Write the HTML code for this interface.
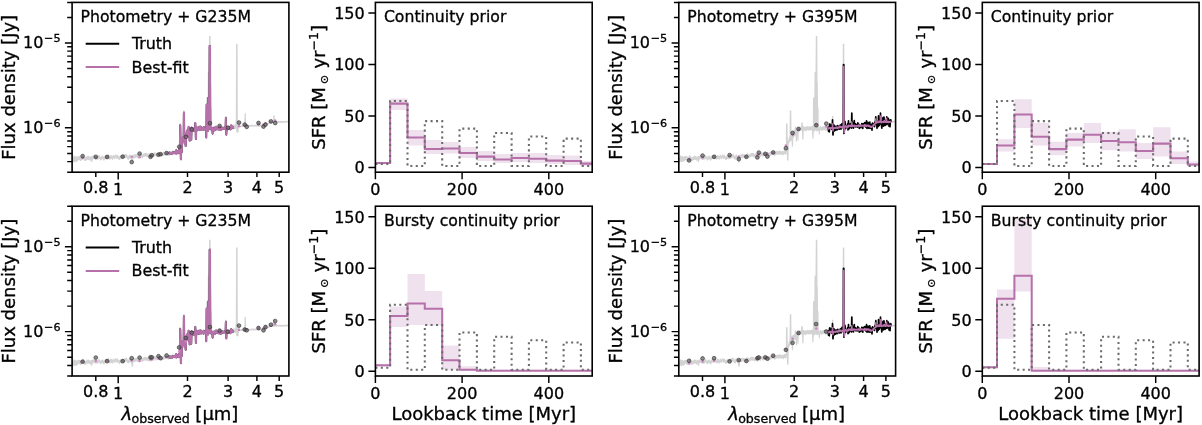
<!DOCTYPE html>
<html><head><meta charset="utf-8"><title>SFH recovery</title>
<style>html,body{margin:0;padding:0;background:#fff;overflow:hidden;width:1202px;height:425px}svg{display:block;filter:blur(0.45px)}text{stroke:#000;stroke-width:.32px}</style></head>
<body>
<svg width="1202" height="425" viewBox="0 0 1202 425" font-family='"DejaVu Sans","Liberation Sans",sans-serif' fill="#000">
<defs>
<clipPath id="c00"><rect x="72.1" y="2.4" width="216.8" height="169.8"/></clipPath>
<clipPath id="c01"><rect x="375.4" y="2.4" width="216.8" height="169.8"/></clipPath>
<clipPath id="c02"><rect x="678.8" y="2.4" width="216.8" height="169.8"/></clipPath>
<clipPath id="c03"><rect x="982.3" y="2.4" width="216.8" height="169.8"/></clipPath>
<clipPath id="c10"><rect x="72.1" y="206.2" width="216.8" height="169.8"/></clipPath>
<clipPath id="c11"><rect x="375.4" y="206.2" width="216.8" height="169.8"/></clipPath>
<clipPath id="c12"><rect x="678.8" y="206.2" width="216.8" height="169.8"/></clipPath>
<clipPath id="c13"><rect x="982.3" y="206.2" width="216.8" height="169.8"/></clipPath>
</defs>
<g clip-path="url(#c00)">
<polygon points="72.1,158.4 72.3,158.1 72.6,157.8 72.8,157.5 73.1,157.2 73.3,156.8 73.6,155.8 73.8,154.9 74.1,155.6 74.3,155.9 74.6,155.6 74.8,156 75.1,156.3 75.3,156.7 75.6,156.3 75.8,156.1 76.1,155.9 76.3,156 76.6,156.6 76.8,157.2 77.1,157 77.3,156.3 77.6,156.1 77.8,156.5 78.1,156.1 78.3,156.1 78.6,155.9 78.8,156 79.1,156.2 79.3,156.2 79.6,156.1 79.8,155.9 80.1,156.3 80.3,156.8 80.6,156.7 80.8,156.5 81.1,156.4 81.3,156.6 81.6,156.8 81.8,156.6 82.1,156.4 82.3,156.1 82.6,155.5 82.8,155 83.1,155 83.3,155.1 83.6,155.2 83.8,155.6 84.1,156 84.3,156.6 84.6,157.2 84.8,157.3 85.1,157.1 85.3,157 85.6,157.3 85.8,156.8 86.1,156.8 86.3,156.8 86.6,156.8 86.8,156.5 87.1,156.1 87.3,155.9 87.6,155.8 87.8,156 88.1,155.5 88.3,155.3 88.6,155.9 88.8,156.3 89.1,156.2 89.3,156.3 89.6,156.4 89.8,156.7 90.1,156.7 90.3,156.7 90.6,156.5 90.8,156.4 91.1,156.3 91.3,156.3 91.6,156.1 91.8,155.9 92.1,155.8 92.3,155.8 92.6,155.8 92.8,156.1 93.1,155.8 93.3,155.7 93.6,155.6 93.8,155.2 94.1,154.8 94.3,154.8 94.6,155.5 94.8,155.6 95.1,155.8 95.3,156.2 95.6,156.4 95.8,156.4 96.1,156.3 96.3,156.3 96.6,156.2 96.8,156.2 97.1,156.2 97.3,156.2 97.6,156.2 97.8,156.1 98.1,155.9 98.3,155.5 98.6,155.2 98.8,155.2 99.1,154.9 99.3,155.1 99.6,155.4 99.8,155.9 100.1,156.7 100.3,157.1 100.6,156.9 100.8,156.4 101.1,156.2 101.3,156.2 101.6,156.1 101.8,156 102.1,155.9 102.3,155.6 102.6,155.3 102.8,155.5 103.1,156.2 103.3,156.2 103.6,156.6 103.8,156.9 104.1,156.8 104.3,156.5 104.6,156.2 104.8,155.8 105.1,155.5 105.3,155.3 105.6,155.2 105.8,155.1 106.1,154.9 106.3,154.8 106.6,154.9 106.8,155.1 107.1,155.1 107.3,155 107.6,154.8 107.8,154.8 108.1,154.3 108.3,154.1 108.6,154 108.8,154.4 109.1,155 109.3,155.6 109.6,156.1 109.8,156.2 110.1,155.6 110.3,155.1 110.6,154.8 110.8,155.1 111.1,155.4 111.3,155.3 111.6,155.3 111.8,155.3 112.1,155.3 112.3,155.4 112.6,156 112.8,156.1 113.1,155.7 113.3,155.2 113.6,154.7 113.8,154.6 114.1,154.8 114.3,155.4 114.6,155.7 114.8,155.7 115.1,155.2 115.3,154.7 115.6,154.5 115.8,154.2 116.1,154.5 116.3,154.8 116.6,155 116.8,155.1 117.1,154.9 117.3,154.7 117.6,154.6 117.8,154.7 118.1,155.2 118.3,155.7 118.6,156.1 118.8,156.4 119.1,156.5 119.3,156.5 119.6,156.3 119.8,156.1 120.1,155.5 120.3,155.5 120.6,155.5 120.8,155.3 121.1,155.2 121.3,155.1 121.6,155.6 121.8,155.9 122.1,155.5 122.3,155 122.6,154.8 122.8,155 123.1,155.4 123.3,155.3 123.6,155.3 123.8,155.1 124.1,154.8 124.3,154.6 124.6,154.8 124.8,154.3 125.1,154.2 125.3,154.2 125.6,154.1 125.8,154 126.1,153.9 126.3,153.8 126.6,153.8 126.8,154.3 127.1,154.8 127.3,155.2 127.6,155.5 127.8,155.7 128.1,156 128.3,156.2 128.6,155.7 128.8,155 129.1,154.3 129.3,154.3 129.6,154.4 129.8,154.4 130.1,154.5 130.3,154.9 130.6,155.3 130.8,155.7 131.1,156.1 131.3,155.7 131.6,155.4 131.8,155.1 132.1,154.9 132.3,155 132.6,154.9 132.8,154.8 133.1,154.7 133.3,154.7 133.6,154.9 133.8,154.6 134.1,154.6 134.3,154.6 134.6,154.5 134.8,154.2 135.1,154 135.3,154.3 135.6,154.2 135.8,153.9 136.1,153.9 136.3,153.8 136.6,154 136.8,154.2 137.1,154.4 137.3,154.4 137.6,154.2 137.8,154.1 138.1,154.1 138.3,154.4 138.6,154.8 138.8,155 139.1,154.8 139.3,154.5 139.6,154.3 139.8,153.6 140.1,153.5 140.3,153.5 140.6,153.1 140.8,153.3 141.1,153.6 141.3,153.8 141.6,153.8 141.8,154.3 142.1,154.8 142.3,154.7 142.6,154.6 142.8,154.1 143.1,153.9 143.3,153.7 143.6,153.5 143.8,153.5 144.1,153.3 144.3,153.3 144.6,153 144.8,152.9 145.1,152.8 145.3,152.9 145.6,153.2 145.8,153.1 146.1,153.1 146.3,153.1 146.6,153.1 146.8,153.1 147.1,153.1 147.3,153.2 147.6,153.5 147.8,154 148.1,154.5 148.3,154 148.6,153.6 148.8,153.3 149.1,153.4 149.3,153.5 149.6,153.6 149.8,153.3 150.1,153 150.3,153.6 150.6,153.9 150.8,154 151.1,153.9 151.3,153.7 151.6,153.6 151.8,153.4 152.1,153.2 152.3,153.1 152.6,153.1 152.8,153.1 153.1,153.1 153.3,153.3 153.6,153.4 153.8,153.2 154.1,152.8 154.3,152.5 154.6,152.4 154.8,152.3 155.1,152 155.3,152.1 155.6,152.5 155.8,153 156.1,153.2 156.3,153.1 156.6,153.1 156.8,153.1 157.1,153 157.3,152.7 157.6,152.7 157.8,152.6 158.1,152.3 158.3,152.1 158.6,152.1 158.8,152.2 159.1,152.2 159.3,152.3 159.6,152 159.8,152 160.1,152.1 160.3,152 160.6,152.2 160.8,152.4 161.1,152.7 161.3,152.9 161.6,153 161.8,153 162.1,152.9 162.3,152.7 162.6,152.5 162.8,152.4 163.1,152.3 163.3,152.1 163.6,151.8 163.8,151.6 164.1,151.9 164.3,152.3 164.6,151.9 164.8,152 165.1,151.7 165.3,151.8 165.6,151.7 165.8,151.7 166.1,151.4 166.3,151.2 166.6,151.2 166.8,151.4 167.1,151.4 167.3,151.6 167.6,152.1 167.8,152.3 168.1,151.7 168.3,151.7 168.6,151.8 168.8,151.6 169.1,151.3 169.3,151.1 169.6,151.1 169.8,151.2 170.1,151.1 170.3,150.9 170.6,150.8 170.8,150.7 171.1,150.9 171.3,151.3 171.6,151.3 171.8,151.1 172.1,150.9 172.3,150.9 172.6,150.9 172.8,149.8 173.1,149.8 173.3,150.5 173.6,151.1 173.8,151.3 174.1,150.9 174.3,150.8 174.6,150.9 174.8,151.3 175.1,151.6 175.3,151.4 175.6,151 175.8,150.6 176.1,150.8 176.3,151.1 176.6,151.4 176.8,151.2 177.1,150.5 177.3,150.1 177.6,150.1 177.8,150.1 178.1,150.3 178.3,150.5 178.6,150.4 178.8,150.3 179.1,150.5 179.3,123.4 179.6,123.4 179.8,123.4 180.1,123.4 180.3,123.4 180.6,123.4 180.8,123.4 181.1,141.5 181.3,140.8 181.6,140 181.8,138.9 182.1,137.9 182.3,137 182.6,136.4 182.8,135.7 183.1,110.5 183.3,110.5 183.6,110.5 183.8,110.5 184.1,110.5 184.3,110.5 184.6,110.5 184.8,132.5 185.1,132.1 185.3,132 185.6,131.6 185.8,131.4 186.1,131.3 186.3,131.6 186.6,131.1 186.8,130.7 187.1,130.4 187.3,130.2 187.6,130.1 187.8,130.1 188.1,126.4 188.3,126.4 188.6,126.4 188.8,126.4 189.1,126.4 189.3,126.4 189.6,128.8 189.8,128.6 190.1,128.6 190.3,128.5 190.6,128.4 190.8,128.3 191.1,128.1 191.3,127.8 191.6,127.6 191.8,127.4 192.1,127.3 192.3,127.3 192.6,127.1 192.8,127 193.1,126.9 193.3,126.7 193.6,126.8 193.8,126.9 194.1,126.9 194.3,126.7 194.6,122.4 194.8,122.4 195.1,122.4 195.3,122.4 195.6,122.4 195.8,122.4 196.1,122.4 196.3,126.3 196.6,126.2 196.8,126.3 197.1,126 197.3,126 197.6,126.4 197.8,127.1 198.1,127 198.3,126.6 198.6,126.3 198.8,126.7 199.1,126.9 199.3,126.5 199.6,126.7 199.8,126.6 200.1,126.5 200.3,126.4 200.6,126.2 200.8,126.1 201.1,126 201.3,126.3 201.6,126.4 201.8,126.6 202.1,126.4 202.3,126.3 202.6,126.5 202.8,126.5 203.1,126.3 203.3,126.2 203.6,126.2 203.8,126.5 204.1,126.4 204.3,126.1 204.6,126 204.8,126.1 205.1,126.3 205.3,126 205.6,125.7 205.8,125.5 206.1,125.8 206.3,97.4 206.6,97.4 206.8,97.4 207.1,97.4 207.3,97.4 207.6,97.4 207.8,71.9 208.1,71.9 208.3,71.9 208.6,71.9 208.8,71.9 209.1,36 209.3,36 209.6,36 209.8,36 210.1,36 210.3,36 210.6,36 210.8,82.4 211.1,82.4 211.3,107.4 211.6,107.4 211.8,107.4 212.1,126.4 212.3,126.7 212.6,127 212.8,127.4 213.1,127.2 213.3,126.4 213.6,125.6 213.8,125.8 214.1,126.2 214.3,126.5 214.6,126.9 214.8,127 215.1,126.9 215.3,126.6 215.6,126.2 215.8,126.5 216.1,126.7 216.3,126.6 216.6,126.2 216.8,125.9 217.1,126 217.3,126.1 217.6,126 217.8,125.8 218.1,125.8 218.3,125.9 218.6,126.1 218.8,126.4 219.1,126.5 219.3,126.3 219.6,126.2 219.8,126.6 220.1,126.7 220.3,126.1 220.6,125.9 220.8,126 221.1,126.1 221.3,126.1 221.6,126.2 221.8,126.5 222.1,126.7 222.3,126.6 222.6,126.5 222.8,126.2 223.1,125.9 223.3,125.8 223.6,126 223.8,126.2 224.1,126.4 224.3,125.9 224.6,125.5 224.8,125.6 225.1,125.7 225.3,115.9 225.6,115.9 225.8,115.9 226.1,115.9 226.3,115.9 226.6,115.9 226.8,126.4 227.1,126.1 227.3,125.7 227.6,125.4 227.8,125.3 228.1,125.3 228.3,125.4 228.6,125.5 228.8,126 229.1,126.2 229.3,125.8 229.6,125.7 229.8,126 230.1,126.1 230.3,126.1 230.6,125.8 230.8,125.5 231.1,125.3 231.3,125.3 231.6,125.2 231.8,125.4 232.1,125.7 232.3,125.6 232.6,125.1 232.8,124.4 233.1,124.1 233.3,124 233.6,124.5 233.8,125.5 234.1,126 234.3,125.1 234.6,124.2 234.8,124.3 235.1,124.9 235.3,125.1 235.6,119.9 235.8,119.9 236.1,43.8 236.3,43.8 236.6,43.8 236.8,43.8 237.1,43.8 237.3,43.8 237.6,43.8 237.8,119.9 238.1,119.9 238.3,119.9 238.6,119.9 238.8,119.9 239.1,122.4 239.3,122.4 239.6,122.4 239.8,122.4 240.1,125.5 240.3,125.7 240.6,125.6 240.8,125.6 241.1,125.5 241.3,125.5 241.6,125.5 241.8,125.4 242.1,125.3 242.3,125.2 242.6,125.2 242.8,125.3 243.1,125.1 243.3,125 243.6,125 243.8,125.1 244.1,125.1 244.3,125.1 244.6,113.2 244.8,113.2 245.1,113.2 245.3,113.2 245.6,113.2 245.8,113.2 246.1,125 246.3,124.9 246.6,124.9 246.8,124.9 247.1,124.9 247.3,124.9 247.6,124.9 247.8,124.8 248.1,124.8 248.3,124.8 248.6,124.9 248.8,124.9 249.1,125 249.3,125 249.6,125 249.8,125.1 250.1,125.2 250.3,125.3 250.6,125.1 250.8,124.9 251.1,124.8 251.3,124.7 251.6,124.7 251.8,124.7 252.1,124.7 252.3,124.7 252.6,124.9 252.8,124.9 253.1,124.9 253.3,124.9 253.6,124.9 253.8,124.8 254.1,124.8 254.3,124.8 254.6,124.8 254.8,124.9 255.1,124.9 255.3,124.9 255.6,124.8 255.8,124.8 256.1,124.8 256.4,124.7 256.6,124.7 256.9,124.9 257.1,125 257.4,124.8 257.6,124.8 257.9,124.8 258.1,124.9 258.4,124.9 258.6,125 258.9,125 259.1,125 259.4,125 259.6,124.9 259.9,124.8 260.1,124.7 260.4,124.6 260.6,124.6 260.9,124.7 261.1,124.8 261.4,124.9 261.6,124.8 261.9,124.8 262.1,124.8 262.4,124.5 262.6,124.4 262.9,124.5 263.1,124.8 263.4,125.1 263.6,125 263.9,124.8 264.1,124.7 264.4,124.9 264.6,124.9 264.9,124.8 265.1,124.6 265.4,124.6 265.6,124.7 265.9,124.7 266.1,124.3 266.4,124 266.6,123.8 266.9,123.8 267.1,123.5 267.4,123.3 267.6,123 267.9,122.9 268.1,122.9 268.4,122.8 268.6,119.4 268.9,119.4 269.1,119.4 269.4,119.4 269.6,119.4 269.9,121.9 270.1,121.8 270.4,121.6 270.6,121.4 270.9,121.3 271.1,121.3 271.4,121.3 271.6,121.2 271.9,121 272.1,121.1 272.4,120.9 272.6,120.9 272.9,121.1 273.1,121.1 273.4,115.2 273.6,115.2 273.9,115.2 274.1,115.2 274.4,115.2 274.6,115.2 274.9,121.3 275.1,121.2 275.4,120.9 275.6,120.7 275.9,120.9 276.1,121 276.4,121.2 276.6,121.3 276.9,121.4 277.1,121.3 277.4,121.1 277.6,121 277.9,120.9 278.1,120.9 278.4,121 278.6,121.1 278.9,121 279.1,120.9 279.4,121 279.6,121 279.9,121.1 280.1,121.1 280.4,121 280.6,121 280.9,121.1 281.1,121.3 281.4,121.2 281.6,121.2 281.9,121.1 282.1,120.9 282.4,120.9 282.6,121.1 282.9,121.2 283.1,121.2 283.4,121.2 283.6,121.3 283.9,121.1 284.1,120.9 284.4,120.9 284.6,121 284.9,120.9 285.1,120.8 285.4,120.7 285.6,120.9 285.9,121.2 286.1,121.2 286.4,121.1 286.6,121 286.9,120.9 287.1,120.8 287.4,120.7 287.6,120.7 287.9,120.8 288.1,121 288.4,121.1 288.6,121.2 288.9,121.3 288.9,123 288.6,122.9 288.4,122.8 288.1,122.6 287.9,122.5 287.6,122.4 287.4,122.4 287.1,122.5 286.9,122.6 286.6,122.7 286.4,122.8 286.1,122.9 285.9,122.8 285.6,122.6 285.4,122.3 285.1,122.5 284.9,122.7 284.6,122.7 284.4,122.7 284.1,122.6 283.9,122.8 283.6,122.9 283.4,123 283.1,122.9 282.9,122.9 282.6,122.7 282.4,122.6 282.1,122.8 281.9,122.9 281.6,122.9 281.4,123 281.1,123 280.9,122.9 280.6,122.8 280.4,122.8 280.1,122.8 279.9,122.8 279.6,122.8 279.4,122.6 279.1,122.7 278.9,122.7 278.6,122.8 278.4,122.7 278.1,122.7 277.9,122.7 277.6,122.7 277.4,122.8 277.1,122.9 276.9,123 276.6,123 276.4,122.9 276.1,122.7 275.9,122.6 275.6,122.4 275.4,122.6 275.1,122.9 274.9,123.1 274.6,123.1 274.4,123.1 274.1,123 273.9,122.9 273.6,122.9 273.4,122.8 273.1,122.8 272.9,122.8 272.6,122.7 272.4,122.7 272.1,122.7 271.9,122.9 271.6,123 271.4,123.2 271.1,123.1 270.9,123 270.6,123.2 270.4,123.4 270.1,123.6 269.9,123.7 269.6,123.7 269.4,123.8 269.1,123.9 268.9,124.1 268.6,124.3 268.4,124.4 268.1,124.5 267.9,124.6 267.6,124.6 267.4,125 267.1,125.3 266.9,125.5 266.6,125.6 266.4,125.8 266.1,126.1 265.9,126.4 265.6,126.4 265.4,126.3 265.1,126.3 264.9,126.5 264.6,126.7 264.4,126.6 264.1,126.5 263.9,126.5 263.6,126.6 263.4,126.7 263.1,126.6 262.9,126.3 262.6,126.2 262.4,126.3 262.1,126.4 261.9,126.5 261.6,126.6 261.4,126.5 261.1,126.5 260.9,126.4 260.6,126.4 260.4,126.4 260.1,126.5 259.9,126.6 259.6,126.7 259.4,126.8 259.1,126.8 258.9,126.7 258.6,126.7 258.4,126.6 258.1,126.5 257.9,126.5 257.6,126.6 257.4,126.7 257.1,126.8 256.9,126.6 256.6,126.5 256.4,126.5 256.1,126.5 255.8,126.5 255.6,126.6 255.3,126.7 255.1,126.6 254.8,126.5 254.6,126.5 254.3,126.4 254.1,126.4 253.8,126.5 253.6,126.6 253.3,126.7 253.1,126.7 252.8,126.7 252.6,126.6 252.3,126.4 252.1,126.4 251.8,126.4 251.6,126.5 251.3,126.5 251.1,126.6 250.8,126.7 250.6,126.8 250.3,127 250.1,126.9 249.8,126.8 249.6,126.6 249.3,126.8 249.1,126.9 248.8,126.8 248.6,126.6 248.3,126.6 248.1,126.7 247.8,126.8 247.6,126.7 247.3,126.5 247.1,126.5 246.8,126.5 246.6,126.6 246.3,126.7 246.1,126.8 245.8,126.8 245.6,126.8 245.3,126.8 245.1,126.9 244.8,127 244.6,127 244.3,126.9 244.1,126.9 243.8,126.8 243.6,126.8 243.3,126.8 243.1,126.9 242.8,127 242.6,126.9 242.3,126.9 242.1,127 241.8,127.1 241.6,127.3 241.3,127.3 241.1,127.2 240.8,127.3 240.6,127.3 240.3,127.3 240.1,127.3 239.8,127.3 239.6,127.2 239.3,127.1 239.1,126.9 238.8,127 238.6,132.4 238.3,132.4 238.1,132.4 237.8,132.4 237.6,132.4 237.3,132.4 237.1,132.4 236.8,132.4 236.6,132.4 236.3,132.4 236.1,128.1 235.8,129.2 235.6,129.1 235.3,129.1 235.1,128.7 234.8,128.5 234.6,128.5 234.3,129.3 234.1,130 233.8,129.5 233.6,128.8 233.3,128.3 233.1,128.6 232.8,128.7 232.6,129.2 232.3,129.9 232.1,130.2 231.8,130 231.6,129.6 231.3,129.6 231.1,129.6 230.8,129.7 230.6,129.8 230.3,130 230.1,129.9 229.8,129.7 229.6,129.5 229.3,129.8 229.1,130.2 228.8,130.2 228.6,129.8 228.3,129.3 228.1,129.1 227.8,129.1 227.6,129.3 227.3,135.6 227.1,135.6 226.8,135.6 226.6,135.6 226.3,135.6 226.1,135.6 225.8,130.4 225.6,130.5 225.3,130.6 225.1,130.6 224.8,130.3 224.6,129.9 224.3,130 224.1,130.5 223.8,130.7 223.6,130.2 223.3,129.6 223.1,129.7 222.8,130.1 222.6,130.5 222.3,130.7 222.1,130.8 221.8,130.7 221.6,130.5 221.3,130.2 221.1,129.9 220.8,129.8 220.6,130 220.3,130.5 220.1,130.8 219.8,130.7 219.6,130.4 219.3,130.3 219.1,130.4 218.8,130.6 218.6,130.9 218.3,130.5 218.1,129.8 217.8,130.3 217.6,130.3 217.3,130.2 217.1,129.9 216.8,130 216.6,130.4 216.3,130.5 216.1,130.7 215.8,130.4 215.6,130.1 215.3,130.3 215.1,130.8 214.8,131.1 214.6,130.8 214.3,130.9 214.1,130.6 213.8,130.2 213.6,130 213.3,130.6 213.1,134.4 212.8,134.4 212.6,134.4 212.3,134.4 212.1,134.4 211.8,130.7 211.6,130.5 211.3,130.8 211.1,131.2 210.8,131.3 210.6,131.3 210.3,131.2 210.1,131.5 209.8,131.3 209.6,130.9 209.3,130.4 209.1,129.9 208.8,130.4 208.6,131 208.3,131.5 208.1,131.4 207.8,131.4 207.6,131.3 207.3,131 207.1,131 206.8,138.4 206.6,138.4 206.3,138.4 206.1,138.4 205.8,138.4 205.6,138.4 205.3,130.7 205.1,130.7 204.8,130.2 204.6,130.1 204.3,130.1 204.1,130.3 203.8,130.6 203.6,130.6 203.3,130.5 203.1,130.4 202.8,130.5 202.6,130.6 202.3,130.7 202.1,130.6 201.8,130.6 201.6,130.4 201.3,130.2 201.1,130 200.8,130.1 200.6,130.2 200.3,130.2 200.1,130.7 199.8,131.1 199.6,131.2 199.3,131.3 199.1,131.3 198.8,131.1 198.6,130.8 198.3,130.5 198.1,131.1 197.8,131.2 197.6,130.6 197.3,130.2 197.1,130 196.8,139.4 196.6,139.4 196.3,139.4 196.1,139.4 195.8,139.4 195.6,139.4 195.3,130.7 195.1,130.8 194.8,130.8 194.6,130.8 194.3,130.8 194.1,130.9 193.8,131.2 193.6,131 193.3,131 193.1,131.1 192.8,131.6 192.6,131.8 192.3,131.7 192.1,131.5 191.8,140.4 191.6,140.4 191.3,140.4 191.1,140.4 190.8,140.4 190.6,133.3 190.3,141.4 190.1,141.4 189.8,141.4 189.6,141.4 189.3,141.4 189.1,141.4 188.8,135.2 188.6,136 188.3,136.3 188.1,136.3 187.8,136.2 187.6,136.5 187.3,137.2 187.1,137.2 186.8,137.7 186.6,138.4 186.3,146.4 186.1,146.4 185.8,146.4 185.6,146.4 185.3,146.4 185.1,146.4 184.8,139.8 184.6,140.4 184.3,141.3 184.1,141.3 183.8,141.2 183.6,141.1 183.3,141.4 183.1,141.9 182.8,142.4 182.6,143 182.3,143.4 182.1,144.1 181.8,160.6 181.6,160.6 181.3,160.6 181.1,160.6 180.8,160.6 180.6,160.6 180.3,160.6 180.1,151.6 179.8,153 179.6,154.4 179.3,155.3 179.1,154.8 178.8,154.6 178.6,154.4 178.3,154.3 178.1,154.2 177.8,154.1 177.6,154.1 177.3,154.1 177.1,154.6 176.8,155.1 176.6,155.6 176.3,155.4 176.1,155 175.8,154.7 175.6,154.8 175.3,154.9 175.1,155.1 174.8,154.9 174.6,154.5 174.3,154.2 174.1,154.5 173.8,154.7 173.6,154.6 173.3,154.4 173.1,154.4 172.8,154.6 172.6,154.6 172.3,154.9 172.1,154.8 171.8,155 171.6,155.2 171.3,154.8 171.1,154.5 170.8,154.3 170.6,154.4 170.3,154.4 170.1,154.7 169.8,154.8 169.6,154.9 169.3,154.9 169.1,155.2 168.8,155.4 168.6,155.6 168.3,155.7 168.1,156.2 167.8,156.1 167.6,155.6 167.3,155.3 167.1,155 166.8,154.9 166.6,154.8 166.3,154.9 166.1,155 165.8,155.1 165.6,155.1 165.3,155.2 165.1,155.2 164.8,155.3 164.6,155.5 164.3,155.6 164.1,155.7 163.8,155.7 163.6,155.8 163.3,156 163.1,156 162.8,156 162.6,156.1 162.3,156.2 162.1,156.3 161.8,156.4 161.6,156.4 161.3,156.4 161.1,156.3 160.8,156 160.6,155.8 160.3,156 160.1,155.9 159.8,155.7 159.6,155.6 159.3,155.7 159.1,155.7 158.8,155.8 158.6,155.8 158.3,155.7 158.1,155.6 157.8,156 157.6,156.2 157.3,156.3 157.1,156.5 156.8,156.7 156.6,156.8 156.3,156.6 156.1,156.8 155.8,156.6 155.6,156.1 155.3,155.7 155.1,155.5 154.8,155.8 154.6,156 154.3,156.4 154.1,156.7 153.8,157 153.6,157.2 153.3,157 153.1,156.8 152.8,156.8 152.6,156.8 152.3,156.7 152.1,156.6 151.8,157 151.6,157.4 151.3,157.8 151.1,157.8 150.8,157.7 150.6,157.7 150.3,157.8 150.1,157.8 149.8,157.5 149.6,157.2 149.3,157.1 149.1,157 148.8,156.9 148.6,157.2 148.3,157.8 148.1,158 147.8,157.6 147.6,157.3 147.3,156.7 147.1,156.5 146.8,156.8 146.6,157.1 146.3,157.2 146.1,156.9 145.8,156.7 145.6,156.6 145.3,156.6 145.1,156.6 144.8,156.6 144.6,156.7 144.3,156.9 144.1,157 143.8,156.9 143.6,157.3 143.3,157.5 143.1,157.4 142.8,157.6 142.6,158 142.3,158.4 142.1,158.2 141.8,158 141.6,157.7 141.3,157.3 141.1,157.1 140.8,156.8 140.6,156.9 140.3,157.2 140.1,157.5 139.8,157.7 139.6,157.8 139.3,158 139.1,158.4 138.8,158.8 138.6,158.7 138.3,158.3 138.1,158 137.8,157.9 137.6,158.2 137.3,158.3 137.1,158 136.8,157.7 136.6,157.4 136.3,157.2 136.1,157.4 135.8,157.7 135.6,157.9 135.3,157.8 135.1,158.1 134.8,158 134.6,158.4 134.3,158.4 134.1,158.2 133.8,158.4 133.6,158.4 133.3,158.4 133.1,162.6 132.8,162.6 132.6,162.6 132.3,162.6 132.1,162.6 131.8,162.6 131.6,162.6 131.3,159.4 131.1,159.7 130.8,159.4 130.6,158.8 130.3,158.3 130.1,158 129.8,158.2 129.6,158.5 129.3,158.9 129.1,159.5 128.8,159.3 128.6,159.7 128.3,160.1 128.1,159.7 127.8,159.2 127.6,159.1 127.3,159.2 127.1,158.7 126.8,158.1 126.6,157.5 126.3,157.4 126.1,157.6 125.8,157.8 125.6,158.1 125.3,158.2 125.1,158.2 124.8,158.2 124.6,158.1 124.3,158.6 124.1,158.6 123.8,159.2 123.6,159.4 123.3,159 123.1,158.8 122.8,158.7 122.6,158.7 122.3,158.9 122.1,159.2 121.8,159.4 121.6,159.2 121.3,159.1 121.1,159 120.8,158.8 120.6,159 120.3,159.3 120.1,159.8 119.8,160.2 119.6,160.3 119.3,160.1 119.1,159.9 118.8,160 118.6,159.5 118.3,159.3 118.1,158.7 117.8,158.6 117.6,158.9 117.3,158.9 117.1,158.8 116.8,158.9 116.6,158.7 116.3,158.4 116.1,158 115.8,157.6 115.6,158.1 115.3,158.8 115.1,159 114.8,159.2 114.6,159.3 114.3,159.1 114.1,158.9 113.8,158.2 113.6,158.3 113.3,158.8 113.1,159.2 112.8,159.5 112.6,160 112.3,160 112.1,159.6 111.8,159.1 111.6,158.8 111.3,159.1 111.1,159.3 110.8,158.9 110.6,159.1 110.3,159.4 110.1,159.4 109.8,159.6 109.6,160 109.3,160 109.1,159.4 108.8,158.8 108.6,158.1 108.3,157.7 108.1,158.2 107.8,158.5 107.6,158.8 107.3,159.2 107.1,159.4 106.8,159.3 106.6,159.1 106.3,158.8 106.1,158.4 105.8,158.6 105.6,159 105.3,159.2 105.1,159.4 104.8,159.5 104.6,160.1 104.3,160.5 104.1,160.7 103.8,160.8 103.6,160.6 103.3,160.4 103.1,159.8 102.8,159.2 102.6,159.1 102.3,159.2 102.1,159.4 101.8,159.6 101.6,159.8 101.3,159.8 101.1,160.2 100.8,160.6 100.6,160.5 100.3,160.8 100.1,160.4 99.8,159.8 99.6,159.2 99.3,158.6 99.1,158.4 98.8,158.7 98.6,159.1 98.3,159.3 98.1,159.5 97.8,159.7 97.6,159.8 97.3,160.1 97.1,159.9 96.8,159.6 96.6,159.6 96.3,159.8 96.1,160.1 95.8,160 95.6,160 95.3,159.9 95.1,159.8 94.8,159.6 94.6,159 94.3,158.9 94.1,158.7 93.8,158.7 93.6,159.1 93.3,159.3 93.1,159.5 92.8,159.7 92.6,159.7 92.3,162 92.1,162 91.8,162 91.6,162 91.3,162 91.1,162 90.8,159.9 90.6,160.2 90.3,160.8 90.1,161.3 89.8,160.8 89.6,160.4 89.3,160 89.1,159.8 88.8,159.9 88.6,159.9 88.3,160 88.1,159.7 87.8,159.7 87.6,159.8 87.3,159.9 87.1,160 86.8,160 86.6,160.3 86.3,160.5 86.1,160.6 85.8,160.7 85.6,160.9 85.3,161.2 85.1,161.2 84.8,161.1 84.6,161 84.3,160.9 84.1,160.8 83.8,160.1 83.6,159.4 83.3,158.8 83.1,158.7 82.8,159 82.6,159.4 82.3,159.7 82.1,160 81.8,160.3 81.6,160.3 81.3,160.6 81.1,160.9 80.8,161 80.6,161.1 80.3,161.1 80.1,160.9 79.8,160.6 79.6,160.3 79.3,160.1 79.1,160 78.8,160 78.6,159.8 78.3,160.4 78.1,161 77.8,161 77.6,161 77.3,161.1 77.1,161.4 76.8,161.6 76.6,161.9 76.3,162.2 76.1,161.7 75.8,161.4 75.6,161.9 75.3,161.9 75.1,161.9 74.8,162.2 74.6,162.6 74.3,161.8 74.1,161.3 73.8,162.2 73.6,161.7 73.3,162.1 73.1,162.5 72.8,163.4 72.6,164.3 72.3,164.6 72.1,165" fill="#d3d3d3"/>
<polyline points="169.1,152.9 169.3,152.5 169.6,154.2 169.8,153.3 170.1,152.8 170.3,153.5 170.6,153 170.8,153.4 171.1,153.9 171.3,152.8 171.6,153.3 171.8,153.3 172.1,153.7 172.3,153.3 172.6,152.9 172.8,152.4 173.1,153 173.3,152.1 173.6,153.2 173.8,152.8 174.1,153.1 174.3,152.4 174.6,152.1 174.8,152 175.1,153.4 175.3,152.5 175.6,152.4 175.8,151.3 176.1,152.5 176.3,150.1 176.6,153.5 176.8,152.3 177.1,152.5 177.3,151.5 177.6,151.7 177.8,152.8 178.1,152.2 178.3,152.7 178.6,153.2 178.8,152.8 179.1,149.7 179.3,150.9 179.6,149.8 179.8,148.8 180.1,125.3 180.3,125.3 180.6,145.2 180.8,159.2 181.1,159.2 181.3,143.1 181.6,152.4 181.8,152.4 182.1,138.5 182.3,140.5 182.6,139.1 182.8,137.4 183.1,140.3 183.3,140.5 183.6,140.6 183.8,112.6 184.1,112.6 184.3,137.4 184.6,143.4 184.8,138.2 185.1,134.9 185.3,136.4 185.6,146 185.8,146 186.1,138.2 186.3,134.5 186.6,136.4 186.8,130.7 187.1,130.9 187.3,130.4 187.6,133.9 187.8,134.1 188.1,130 188.3,130.8 188.6,126.8 188.8,136.9 189.1,131.7 189.3,131.8 189.6,140.6 189.8,140.6 190.1,130.4 190.3,128.1 190.6,129.1 190.8,133.3 191.1,130.7 191.3,140 191.6,127.5 191.8,129.7 192.1,129.8 192.3,128.5 192.6,131 192.8,128.4 193.1,129 193.3,130.5 193.6,129.5 193.8,130.8 194.1,128.7 194.3,128.4 194.6,129.7 194.8,129.4 195.1,130.7 195.3,123 195.6,129 195.8,139 196.1,139 196.3,127.6 196.6,128.8 196.8,128.5 197.1,130.4 197.3,128.4 197.6,130.2 197.8,127.5 198.1,128.8 198.3,130.1 198.6,128.6 198.8,130.1 199.1,126.7 199.3,128.9 199.6,129 199.8,128.7 200.1,127.3 200.3,129.5 200.6,126.5 200.8,129.7 201.1,129 201.3,129.7 201.6,128.5 201.8,127.7 202.1,128.3 202.3,128.3 202.6,129.3 202.8,128.4 203.1,129.1 203.3,129.1 203.6,130 203.8,126.9 204.1,128.3 204.3,129.3 204.6,129.3 204.8,128.2 205.1,128.5 205.3,128.6 205.6,128.8 205.8,128.2 206.1,128.1 206.3,137.5 206.6,104.7 206.8,104.7 207.1,104.7 207.3,129.5 207.6,112.4 207.8,112.4 208.1,130.7 208.3,97.6 208.6,97.6 208.8,97.6 209.1,127.6 209.3,128.9 209.6,45.9 209.8,45.9 210.1,45.9 210.3,127.8 210.6,127.9 210.8,129 211.1,128.5 211.3,129.1 211.6,129.7 211.8,127.6 212.1,128 212.3,128.7 212.6,133.8 212.8,128.3 213.1,128.2 213.3,129 213.6,130.4 213.8,128.1 214.1,128.3 214.3,128.6 214.6,129.2 214.8,130.4 215.1,127.5 215.3,127.1 215.6,128.7 215.8,129 216.1,126.6 216.3,128 216.6,129.3 216.8,128.1 217.1,128.9 217.3,128.6 217.6,129 217.8,128.8 218.1,128.7 218.3,129.5 218.6,128 218.8,128.5 219.1,129.4 219.3,127.9 219.6,128.1 219.8,127.8 220.1,127.6 220.3,130.1 220.6,128.8 220.8,130 221.1,129 221.3,128.4 221.6,128.1 221.8,128.6 222.1,128.3 222.3,129.1 222.6,127.6 222.8,128.4 223.1,128.7 223.3,128.1 223.6,128.1 223.8,128.7 224.1,128.7 224.3,128.1 224.6,128.2 224.8,127.7 225.1,128.7 225.3,128.1 225.6,126.8 225.8,117.9 226.1,128.7 226.3,134.7 226.6,127.4 226.8,128.7 227.1,128.6 227.3,128.6 227.6,129.4 227.8,127.8 228.1,128.6 228.3,127.8 228.6,128.8 228.8,128.9 229.1,128.3 229.3,128.5 229.6,127.1 229.8,128.3 230.1,126.7 230.3,129.5 230.6,128.6 230.8,126.3 231.1,125.3 231.3,128.6 231.6,126.8 231.8,127.9 232.1,126.3 232.3,127.4 232.6,126.8 232.8,127.8 233.1,127 233.3,128.5" fill="none" stroke="#000" stroke-width="1.7" stroke-linejoin="round" />
<polyline points="169.1,152.9 169.3,152.5 169.6,154.2 169.8,153.3 170.1,152.8 170.3,153.5 170.6,153 170.8,153.4 171.1,153.9 171.3,152.8 171.6,153.3 171.8,153.3 172.1,153.7 172.3,153.3 172.6,152.9 172.8,152.4 173.1,153 173.3,152.1 173.6,153.2 173.8,152.8 174.1,153.1 174.3,152.4 174.6,152.1 174.8,152 175.1,153.4 175.3,152.5 175.6,152.4 175.8,151.3 176.1,152.5 176.3,150.1 176.6,153.5 176.8,152.3 177.1,152.5 177.3,151.5 177.6,151.7 177.8,152.8 178.1,152.2 178.3,152.7 178.6,153.2 178.8,152.8 179.1,149.7 179.3,150.9 179.6,149.8 179.8,148.8 180.1,125.3 180.3,125.3 180.6,145.2 180.8,159.2 181.1,159.2 181.3,143.1 181.6,152.4 181.8,152.4 182.1,138.5 182.3,140.5 182.6,139.1 182.8,137.4 183.1,140.3 183.3,140.5 183.6,140.6 183.8,112.6 184.1,112.6 184.3,137.4 184.6,143.4 184.8,138.2 185.1,134.9 185.3,136.4 185.6,146 185.8,146 186.1,138.2 186.3,134.5 186.6,136.4 186.8,130.7 187.1,130.9 187.3,130.4 187.6,133.9 187.8,134.1 188.1,130 188.3,130.8 188.6,126.8 188.8,136.9 189.1,131.7 189.3,131.8 189.6,140.6 189.8,140.6 190.1,130.4 190.3,128.1 190.6,129.1 190.8,133.3 191.1,130.7 191.3,140 191.6,127.5 191.8,129.7 192.1,129.8 192.3,128.5 192.6,131 192.8,128.4 193.1,129 193.3,130.5 193.6,129.5 193.8,130.8 194.1,128.7 194.3,128.4 194.6,129.7 194.8,129.4 195.1,130.7 195.3,123 195.6,129 195.8,139 196.1,139 196.3,127.6 196.6,128.8 196.8,128.5 197.1,130.4 197.3,128.4 197.6,130.2 197.8,127.5 198.1,128.8 198.3,130.1 198.6,128.6 198.8,130.1 199.1,126.7 199.3,128.9 199.6,129 199.8,128.7 200.1,127.3 200.3,129.5 200.6,126.5 200.8,129.7 201.1,129 201.3,129.7 201.6,128.5 201.8,127.7 202.1,128.3 202.3,128.3 202.6,129.3 202.8,128.4 203.1,129.1 203.3,129.1 203.6,130 203.8,126.9 204.1,128.3 204.3,129.3 204.6,129.3 204.8,128.2 205.1,128.5 205.3,128.6 205.6,128.8 205.8,128.2 206.1,128.1 206.3,137.5 206.6,104.7 206.8,104.7 207.1,104.7 207.3,129.5 207.6,112.4 207.8,112.4 208.1,130.7 208.3,97.6 208.6,97.6 208.8,97.6 209.1,127.6 209.3,128.9 209.6,45.9 209.8,45.9 210.1,45.9 210.3,127.8 210.6,127.9 210.8,129 211.1,128.5 211.3,129.1 211.6,129.7 211.8,127.6 212.1,128 212.3,128.7 212.6,133.8 212.8,128.3 213.1,128.2 213.3,129 213.6,130.4 213.8,128.1 214.1,128.3 214.3,128.6 214.6,129.2 214.8,130.4 215.1,127.5 215.3,127.1 215.6,128.7 215.8,129 216.1,126.6 216.3,128 216.6,129.3 216.8,128.1 217.1,128.9 217.3,128.6 217.6,129 217.8,128.8 218.1,128.7 218.3,129.5 218.6,128 218.8,128.5 219.1,129.4 219.3,127.9 219.6,128.1 219.8,127.8 220.1,127.6 220.3,130.1 220.6,128.8 220.8,130 221.1,129 221.3,128.4 221.6,128.1 221.8,128.6 222.1,128.3 222.3,129.1 222.6,127.6 222.8,128.4 223.1,128.7 223.3,128.1 223.6,128.1 223.8,128.7 224.1,128.7 224.3,128.1 224.6,128.2 224.8,127.7 225.1,128.7 225.3,128.1 225.6,126.8 225.8,117.9 226.1,128.7 226.3,134.7 226.6,127.4 226.8,128.7 227.1,128.6 227.3,128.6 227.6,129.4 227.8,127.8 228.1,128.6 228.3,127.8 228.6,128.8 228.8,128.9 229.1,128.3 229.3,128.5 229.6,127.1 229.8,128.3 230.1,126.7 230.3,129.5 230.6,128.6 230.8,126.3 231.1,125.3 231.3,128.6 231.6,126.8 231.8,127.9 232.1,126.3 232.3,127.4 232.6,126.8 232.8,127.8 233.1,127 233.3,128.5" fill="none" stroke="#b671aa" stroke-width="1.9" stroke-linejoin="round" />
<g fill="#cc86c3"><circle cx="82.6" cy="158" r="1.25"/><circle cx="95.8" cy="157.3" r="1.25"/><circle cx="107.1" cy="157" r="1.25"/><circle cx="122.7" cy="156.8" r="1.25"/><circle cx="131.7" cy="156.8" r="1.25"/><circle cx="139.6" cy="157.2" r="1.25"/><circle cx="150.5" cy="155.6" r="1.25"/><circle cx="151.8" cy="155.4" r="1.25"/><circle cx="158.5" cy="154.6" r="1.25"/><circle cx="160.6" cy="154.3" r="1.25"/><circle cx="166.5" cy="153.4" r="1.25"/><circle cx="179.3" cy="147.5" r="1.25"/><circle cx="185.9" cy="137.5" r="1.25"/><circle cx="191.7" cy="130" r="1.25"/><circle cx="209.9" cy="122" r="1.25"/><circle cx="219.6" cy="126.5" r="1.25"/><circle cx="227.9" cy="127.5" r="1.25"/><circle cx="239" cy="126.3" r="1.25"/><circle cx="244.7" cy="125" r="1.25"/><circle cx="246.7" cy="125.5" r="1.25"/><circle cx="258.5" cy="124.3" r="1.25"/><circle cx="263.5" cy="124.5" r="1.25"/><circle cx="265.5" cy="123.2" r="1.25"/><circle cx="271" cy="122" r="1.25"/><circle cx="275.2" cy="120.4" r="1.25"/></g>
<g fill="#5c5c5c" fill-opacity="0.7" stroke="#262626" stroke-opacity="0.8" stroke-width="0.7"><circle cx="82.6" cy="156.1" r="1.9"/><circle cx="95.8" cy="156.8" r="1.9"/><circle cx="107.1" cy="157" r="1.9"/><circle cx="122.7" cy="156.6" r="1.9"/><circle cx="131.7" cy="162.1" r="1.9"/><circle cx="139.6" cy="153.6" r="1.9"/><circle cx="150.5" cy="156.8" r="1.9"/><circle cx="151.8" cy="155.2" r="1.9"/><circle cx="158.5" cy="154.7" r="1.9"/><circle cx="160.6" cy="154.2" r="1.9"/><circle cx="166.5" cy="153.1" r="1.9"/><circle cx="179.3" cy="146.8" r="1.9"/><circle cx="185.9" cy="136.9" r="1.9"/><circle cx="191.7" cy="129.4" r="1.9"/><circle cx="209.9" cy="123.2" r="1.9"/><circle cx="219.6" cy="125.9" r="1.9"/><circle cx="227.9" cy="127.7" r="1.9"/><circle cx="239" cy="122.6" r="1.9"/><circle cx="244.7" cy="124.6" r="1.9"/><circle cx="246.7" cy="126.8" r="1.9"/><circle cx="258.5" cy="123" r="1.9"/><circle cx="263.5" cy="126.6" r="1.9"/><circle cx="265.5" cy="124.6" r="1.9"/><circle cx="271" cy="121.4" r="1.9"/><circle cx="275.2" cy="123" r="1.9"/></g>
</g>
<path d="M67.2 172.2h4.9M67.2 161.6h4.9M67.2 153.4h4.9M67.2 146.6h4.9M67.2 141h4.9M67.2 136h4.9M67.2 131.7h4.9M64.9 127.8h7.2M67.2 102.3h4.9M67.2 87.3h4.9M67.2 76.7h4.9M67.2 68.5h4.9M67.2 61.7h4.9M67.2 56.1h4.9M67.2 51.1h4.9M67.2 46.8h4.9M64.9 42.9h7.2M67.2 17.4h4.9M67.2 2.4h4.9M95.8 172.2v4.9M118.2 172.2v7.2M187.5 172.2v4.9M228.1 172.2v4.9M256.9 172.2v4.9M279.2 172.2v4.9" stroke="#000" stroke-width="1.45" fill="none"/>
<text x="23" y="133.3" font-size="16.0" text-anchor="start">10<tspan font-size="11.2" dy="-6.2" dx="0.7">−6</tspan></text>
<text x="23" y="48.4" font-size="16.0" text-anchor="start">10<tspan font-size="11.2" dy="-6.2" dx="0.7">−5</tspan></text>
<text x="95.8" y="192.9" font-size="16.0" text-anchor="middle" >0.8</text>
<text x="118.2" y="195" font-size="16.0" text-anchor="middle" >1</text>
<text x="187.5" y="192.9" font-size="16.0" text-anchor="middle" >2</text>
<text x="228.1" y="192.9" font-size="16.0" text-anchor="middle" >3</text>
<text x="256.9" y="192.9" font-size="16.0" text-anchor="middle" >4</text>
<text x="279.2" y="192.9" font-size="16.0" text-anchor="middle" >5</text>
<text transform="translate(15.1 87.3) rotate(-90)" font-size="18.0" text-anchor="middle">Flux density [Jy]</text>
<path d="M85.7 43.8h33.5" stroke="#000" stroke-width="2"/>
<path d="M85.7 67.1h33.5" stroke="#b671aa" stroke-width="2"/>
<text x="131.9" y="49" font-size="15.899999999999999" text-anchor="start" >Truth</text>
<text x="131.5" y="72.5" font-size="15.899999999999999" text-anchor="start" >Best-fit</text>
<rect x="72.1" y="2.4" width="216.8" height="169.8" fill="none" stroke="#000" stroke-width="1.6"/>
<text x="80.6" y="21.7" font-size="15.7" text-anchor="start" >Photometry + G235M</text>
<g clip-path="url(#c01)">
<path d="M375.4 161.9H390.1V164H375.4ZM390.1 98.4H407.5V110H390.1ZM407.5 130H424.8V145.6H407.5ZM424.8 140H442.2V154H424.8ZM442.2 142H459.5V153.6H442.2ZM459.5 147H476.9V158H459.5ZM476.9 151H494.2V161H476.9ZM494.2 154H511.6V163H494.2ZM511.6 153H528.9V162H511.6ZM528.9 153H546.2V163H528.9ZM546.2 155H563.6V164H546.2ZM563.6 155.6H580.9V165H563.6ZM580.9 161H592.2V166H580.9Z" fill="#efe1ed"/>
<path d="M375.4 163H390.1V103.6H407.5V137.4H424.8V149H442.2V148.4H459.5V153H476.9V156.6H494.2V159.4H511.6V158H528.9V158.7H546.2V160.6H563.6V161H580.9V163.6H592.2" fill="none" stroke="#b671aa" stroke-width="2.05" stroke-linejoin="miter"/>
<path d="M375.4 164H390.1V101H407.5V166H424.8V121.1H442.2V166H459.5V128.6H476.9V166H494.2V133H511.6V166H528.9V136.5H546.2V166H563.6V138.6H580.9V166H592.2" fill="none" stroke="#6b6b6b" stroke-width="2.05" stroke-dasharray="2.05 3.38"/>
</g>
<path d="M368.4 167.4h7M368.4 115.9h7M368.4 64.5h7M368.4 13h7M375.4 172.2v7M462.1 172.2v7M548.8 172.2v7" stroke="#000" stroke-width="1.45" fill="none"/>
<text x="364.7" y="173.3" font-size="16.0" text-anchor="end" >0</text>
<text x="364.7" y="121.8" font-size="16.0" text-anchor="end" >50</text>
<text x="364.7" y="70.4" font-size="16.0" text-anchor="end" >100</text>
<text x="364.7" y="18.9" font-size="16.0" text-anchor="end" >150</text>
<text x="375.4" y="194.9" font-size="16.0" text-anchor="middle" >0</text>
<text x="462.1" y="194.9" font-size="16.0" text-anchor="middle" >200</text>
<text x="548.8" y="194.9" font-size="16.0" text-anchor="middle" >400</text>
<text transform="translate(325 87.3) rotate(-90)" font-size="18.0" text-anchor="middle">SFR [M<tspan font-size="10.8" dy="2.6" dx="3.2">⊙</tspan><tspan dy="-2.6" dx="0.7"> yr</tspan><tspan font-size="12.6" dy="-7">−1</tspan><tspan dy="7">]</tspan></text>
<rect x="375.4" y="2.4" width="216.8" height="169.8" fill="none" stroke="#000" stroke-width="1.6"/>
<text x="383.9" y="21.7" font-size="15.7" text-anchor="start" >Continuity prior</text>
<g clip-path="url(#c02)">
<polygon points="678.8,158.4 679,158.1 679.3,157.8 679.5,157.5 679.8,157.2 680,156.8 680.3,155.8 680.5,154.9 680.8,155.6 681,155.9 681.3,155.6 681.5,156 681.8,156.3 682,156.7 682.3,156.3 682.5,156.1 682.8,155.9 683,156 683.3,156.6 683.5,157.2 683.8,157 684,156.3 684.3,156.1 684.5,156.5 684.8,156.1 685,156.1 685.3,155.9 685.5,156 685.8,156.2 686,156.2 686.3,156.1 686.5,155.9 686.8,156.3 687,156.8 687.3,156.7 687.5,156.5 687.8,156.4 688,156.6 688.3,156.8 688.5,156.6 688.8,156.4 689,156.1 689.3,155.5 689.5,155 689.8,155 690,155.1 690.3,155.2 690.5,155.6 690.8,156 691,156.6 691.3,157.2 691.5,157.3 691.8,157.1 692,157 692.3,157.3 692.5,156.8 692.8,156.8 693,156.8 693.3,156.8 693.5,156.5 693.8,156.1 694,155.9 694.3,155.8 694.5,156 694.8,155.5 695,155.3 695.3,155.9 695.5,156.3 695.8,156.2 696,156.3 696.3,156.4 696.5,156.7 696.8,156.7 697,156.7 697.3,156.5 697.5,156.4 697.8,156.3 698,156.3 698.3,156.1 698.5,155.9 698.8,155.8 699,155.8 699.3,155.8 699.5,156.1 699.8,155.8 700,155.7 700.3,155.6 700.5,155.2 700.8,154.8 701,154.8 701.3,155.5 701.5,155.6 701.8,155.8 702,156.2 702.3,156.4 702.5,156.4 702.8,156.3 703,156.3 703.3,156.2 703.5,156.2 703.8,156.2 704,156.2 704.3,156.2 704.5,156.1 704.8,155.9 705,155.5 705.3,155.2 705.5,155.2 705.8,154.9 706,155.1 706.3,155.4 706.5,155.9 706.8,156.7 707,157.1 707.3,156.9 707.5,156.4 707.8,156.2 708,156.2 708.3,156.1 708.5,156 708.8,155.9 709,155.6 709.3,155.3 709.5,155.5 709.8,156.2 710,156.2 710.3,156.6 710.5,156.9 710.8,156.8 711,156.5 711.3,156.2 711.5,155.8 711.8,155.5 712,155.3 712.3,155.2 712.5,155.1 712.8,154.9 713,154.8 713.3,154.9 713.5,155.1 713.8,155.1 714,155 714.3,154.8 714.5,154.8 714.8,154.3 715,154.1 715.3,154 715.5,154.4 715.8,155 716,155.6 716.3,156.1 716.5,156.2 716.8,155.6 717,155.1 717.3,154.8 717.5,155.1 717.8,155.4 718,155.3 718.3,155.3 718.5,155.3 718.8,155.3 719,155.4 719.3,156 719.5,156.1 719.8,155.7 720,155.2 720.3,154.7 720.5,154.6 720.8,154.8 721,155.4 721.3,155.7 721.5,155.7 721.8,155.2 722,154.7 722.3,154.5 722.5,154.2 722.8,154.5 723,154.8 723.3,155 723.5,155.1 723.8,154.9 724,154.7 724.3,154.6 724.5,154.7 724.8,155.2 725,155.7 725.3,156.1 725.5,156.4 725.8,156.5 726,156.5 726.3,156.3 726.5,156.1 726.8,155.5 727,155.5 727.3,155.5 727.5,155.3 727.8,155.2 728,155.1 728.3,155.6 728.5,155.9 728.8,155.5 729,155 729.3,154.8 729.5,155 729.8,155.4 730,155.3 730.3,155.3 730.5,155.1 730.8,154.8 731,154.6 731.3,154.8 731.5,154.3 731.8,154.2 732,154.2 732.3,154.1 732.5,154 732.8,153.9 733,153.8 733.3,153.8 733.5,154.3 733.8,154.8 734,155.2 734.3,155.5 734.5,155.7 734.8,156 735,156.2 735.3,155.7 735.5,155 735.8,154.3 736,154.3 736.3,154.4 736.5,154.4 736.8,154.5 737,154.9 737.3,155.3 737.5,155.7 737.8,156.1 738,155.7 738.3,155.4 738.5,155.1 738.8,154.9 739,155 739.3,154.9 739.5,154.8 739.8,154.7 740,154.7 740.3,154.9 740.5,154.6 740.8,154.6 741,154.6 741.3,154.5 741.5,154.2 741.8,154 742,154.3 742.3,154.2 742.5,153.9 742.8,153.9 743,153.8 743.3,154 743.5,154.2 743.8,154.4 744,154.4 744.3,154.2 744.5,154.1 744.8,154.1 745,154.4 745.3,154.8 745.5,155 745.8,154.8 746,154.5 746.3,154.3 746.5,153.6 746.8,153.5 747,153.5 747.3,153.1 747.5,153.3 747.8,153.6 748,153.8 748.3,153.8 748.5,154.3 748.8,154.8 749,154.7 749.3,154.6 749.5,154.1 749.8,153.9 750,153.7 750.3,153.5 750.5,153.5 750.8,153.3 751,153.3 751.3,153 751.5,152.9 751.8,152.8 752,152.9 752.3,153.2 752.5,153.1 752.8,153.1 753,153.1 753.3,153.1 753.5,153.1 753.8,153.1 754,153.2 754.3,153.5 754.5,154 754.8,154.5 755,154 755.3,153.6 755.5,153.3 755.8,153.4 756,153.5 756.3,153.6 756.5,153.3 756.8,153 757,153.6 757.3,153.9 757.5,154 757.8,153.9 758,153.7 758.3,153.6 758.5,153.4 758.8,153.2 759,153.1 759.3,153.1 759.5,153.1 759.8,153.1 760,153.3 760.3,153.4 760.5,153.2 760.8,152.8 761,152.5 761.3,152.4 761.5,152.3 761.8,152 762,152.1 762.3,152.5 762.5,153 762.8,153.2 763,153.1 763.3,153.1 763.5,153.1 763.8,153 764,152.7 764.3,152.7 764.5,152.6 764.8,152.3 765,152.1 765.3,152.1 765.5,152.2 765.8,152.2 766,152.3 766.3,152 766.5,152 766.8,152.1 767,152 767.3,152.2 767.5,152.4 767.8,152.7 768,152.9 768.3,153 768.5,153 768.8,152.9 769,152.7 769.3,152.5 769.5,152.4 769.8,152.3 770,152.1 770.3,151.8 770.5,151.6 770.8,151.9 771,152.3 771.3,151.9 771.5,152 771.8,151.7 772,151.8 772.3,151.7 772.5,151.7 772.8,151.4 773,151.2 773.3,151.2 773.5,151.4 773.8,151.4 774,151.6 774.3,152.1 774.5,152.3 774.8,151.7 775,151.7 775.3,151.8 775.5,151.6 775.8,151.3 776,151.1 776.3,151.1 776.5,151.2 776.8,151.1 777,150.9 777.3,150.8 777.5,150.7 777.8,150.9 778,151.3 778.3,151.3 778.5,151.1 778.8,150.9 779,150.9 779.3,150.9 779.5,149.8 779.8,149.8 780,150.5 780.3,151.1 780.5,151.3 780.8,150.9 781,150.8 781.3,150.9 781.5,151.3 781.8,151.6 782,151.4 782.3,151 782.5,150.6 782.8,150.8 783,151.1 783.3,151.4 783.5,151.2 783.8,150.5 784,150.1 784.3,150.1 784.5,150.1 784.8,150.3 785,150.5 785.3,150.4 785.5,150.3 785.8,150.5 786,123.4 786.3,123.4 786.5,123.4 786.8,123.4 787,123.4 787.3,123.4 787.5,123.4 787.8,141.5 788,140.8 788.3,140 788.5,138.9 788.8,137.9 789,137 789.3,136.4 789.5,135.7 789.8,110.5 790,110.5 790.3,110.5 790.5,110.5 790.8,110.5 791,110.5 791.3,110.5 791.5,132.5 791.8,132.1 792,132 792.3,131.6 792.5,131.4 792.8,131.3 793,131.6 793.3,131.1 793.5,130.7 793.8,130.4 794,130.2 794.3,130.1 794.5,130.1 794.8,126.4 795,126.4 795.3,126.4 795.5,126.4 795.8,126.4 796,126.4 796.3,128.8 796.5,128.6 796.8,128.6 797,128.5 797.3,128.4 797.5,128.3 797.8,128.1 798,127.8 798.3,127.6 798.5,127.4 798.8,127.3 799,127.3 799.3,127.1 799.5,127 799.8,126.9 800,126.7 800.3,126.8 800.5,126.9 800.8,126.9 801,126.7 801.3,122.4 801.5,122.4 801.8,122.4 802,122.4 802.3,122.4 802.5,122.4 802.8,122.4 803,126.3 803.3,126.2 803.5,126.3 803.8,126 804,126 804.3,126.4 804.5,127.1 804.8,127 805,126.6 805.3,126.3 805.5,126.7 805.8,126.9 806,126.5 806.3,126.7 806.5,126.6 806.8,126.5 807,126.4 807.3,126.2 807.5,126.1 807.8,126 808,126.3 808.3,126.4 808.5,126.6 808.8,126.4 809,126.3 809.3,126.5 809.5,126.5 809.8,126.3 810,126.2 810.3,126.2 810.5,126.5 810.8,126.4 811,126.1 811.3,126 811.5,126.1 811.8,126.3 812,126 812.3,125.7 812.5,125.5 812.8,125.8 813,97.4 813.3,97.4 813.5,97.4 813.8,97.4 814,97.4 814.3,97.4 814.5,71.9 814.8,71.9 815,71.9 815.3,71.9 815.5,71.9 815.8,36 816,36 816.3,36 816.5,36 816.8,36 817,36 817.3,36 817.5,82.4 817.8,82.4 818,107.4 818.3,107.4 818.5,107.4 818.8,126.4 819,126.7 819.3,127 819.5,127.4 819.8,127.2 820,126.4 820.3,125.6 820.5,125.8 820.8,126.2 821,126.5 821.3,126.9 821.5,127 821.8,126.9 822,126.6 822.3,126.2 822.5,126.5 822.8,126.7 823,126.6 823.3,126.2 823.5,125.9 823.8,126 824,126.1 824.3,126 824.5,125.8 824.8,125.8 825,125.9 825.3,126.1 825.5,126.4 825.8,126.5 826,126.3 826.3,126.2 826.5,126.6 826.8,126.7 827,126.1 827.3,125.9 827.5,126 827.8,126.1 828,126.1 828.3,126.2 828.5,126.5 828.8,126.7 829,126.6 829.3,126.5 829.5,126.2 829.8,125.9 830,125.8 830.3,126 830.5,126.2 830.8,126.4 831,125.9 831.3,125.5 831.5,125.6 831.8,125.7 832,115.9 832.3,115.9 832.5,115.9 832.8,115.9 833,115.9 833.3,115.9 833.5,126.4 833.8,126.1 834,125.7 834.3,125.4 834.5,125.3 834.8,125.3 835,125.4 835.3,125.5 835.5,126 835.8,126.2 836,125.8 836.3,125.7 836.5,126 836.8,126.1 837,126.1 837.3,125.8 837.5,125.5 837.8,125.3 838,125.3 838.3,125.2 838.5,125.4 838.8,125.7 839,125.6 839.3,125.1 839.5,124.4 839.8,124.1 840,124 840.3,124.5 840.5,125.5 840.8,126 841,125.1 841.3,124.2 841.5,124.3 841.8,124.9 842,125.1 842.3,119.9 842.5,119.9 842.8,43.8 843,43.8 843.3,43.8 843.5,43.8 843.8,43.8 844,43.8 844.3,43.8 844.5,119.9 844.8,119.9 845,119.9 845.3,119.9 845.5,119.9 845.8,122.4 846,122.4 846.3,122.4 846.5,122.4 846.8,125.5 847,125.7 847.3,125.6 847.5,125.6 847.8,125.5 848,125.5 848.3,125.5 848.5,125.4 848.8,125.3 849,125.2 849.3,125.2 849.5,125.3 849.8,125.1 850,125 850.3,125 850.5,125.1 850.8,125.1 851,125.1 851.3,113.2 851.5,113.2 851.8,113.2 852,113.2 852.3,113.2 852.5,113.2 852.8,125 853,124.9 853.3,124.9 853.5,124.9 853.8,124.9 854,124.9 854.3,124.9 854.5,124.8 854.8,124.8 855,124.8 855.3,124.9 855.5,124.9 855.8,125 856,125 856.3,125 856.5,125.1 856.8,125.2 857,125.3 857.3,125.1 857.5,124.9 857.8,124.8 858,124.7 858.3,124.7 858.5,124.7 858.8,124.7 859,124.7 859.3,124.9 859.5,124.9 859.8,124.9 860,124.9 860.3,124.9 860.5,124.8 860.8,124.8 861,124.8 861.3,124.8 861.5,124.9 861.8,124.9 862,124.9 862.3,124.8 862.5,124.8 862.8,124.8 863,124.7 863.3,124.7 863.5,124.9 863.8,125 864,124.8 864.3,124.8 864.5,124.8 864.8,124.9 865,124.9 865.3,125 865.5,125 865.8,125 866,125 866.3,124.9 866.5,124.8 866.8,124.7 867,124.6 867.3,124.6 867.5,124.7 867.8,124.8 868,124.9 868.3,124.8 868.5,124.8 868.8,124.8 869,124.5 869.3,124.4 869.5,124.5 869.8,124.8 870,125.1 870.3,125 870.5,124.8 870.8,124.7 871,124.9 871.3,124.9 871.5,124.8 871.8,124.6 872,124.6 872.3,124.7 872.5,124.7 872.8,124.3 873,124 873.3,123.8 873.5,123.8 873.8,123.5 874,123.3 874.3,123 874.5,122.9 874.8,122.9 875,122.8 875.3,119.4 875.5,119.4 875.8,119.4 876,119.4 876.3,119.4 876.5,121.9 876.8,121.8 877,121.6 877.3,121.4 877.5,121.3 877.8,121.3 878,121.3 878.3,121.2 878.5,121 878.8,121.1 879,120.9 879.3,120.9 879.5,121.1 879.8,121.1 880,115.2 880.3,115.2 880.5,115.2 880.8,115.2 881,115.2 881.3,115.2 881.5,121.3 881.8,121.2 882,120.9 882.3,120.7 882.5,120.9 882.8,121 883,121.2 883.3,121.3 883.5,121.4 883.8,121.3 884,121.1 884.3,121 884.5,120.9 884.8,120.9 885,121 885.3,121.1 885.5,121 885.8,120.9 886,121 886.3,121 886.5,121.1 886.8,121.1 887,121 887.3,121 887.5,121.1 887.8,121.3 888,121.2 888.3,121.2 888.5,121.1 888.8,120.9 889,120.9 889.3,121.1 889.5,121.2 889.8,121.2 890,121.2 890.3,121.3 890.5,121.1 890.8,120.9 891,120.9 891.3,121 891.5,120.9 891.8,120.8 892,120.7 892.3,120.9 892.5,121.2 892.8,121.2 893,121.1 893.3,121 893.5,120.9 893.8,120.8 894,120.7 894.3,120.7 894.5,120.8 894.8,121 895,121.1 895.3,121.2 895.5,121.3 895.5,123 895.3,122.9 895,122.8 894.8,122.6 894.5,122.5 894.3,122.4 894,122.4 893.8,122.5 893.5,122.6 893.3,122.7 893,122.8 892.8,122.9 892.5,122.8 892.3,122.6 892,122.3 891.8,122.5 891.5,122.7 891.3,122.7 891,122.7 890.8,122.6 890.5,122.8 890.3,122.9 890,123 889.8,122.9 889.5,122.9 889.3,122.7 889,122.6 888.8,122.8 888.5,122.9 888.3,122.9 888,123 887.8,123 887.5,122.9 887.3,122.8 887,122.8 886.8,122.8 886.5,122.8 886.3,122.8 886,122.6 885.8,122.7 885.5,122.7 885.3,122.8 885,122.7 884.8,122.7 884.5,122.7 884.3,122.7 884,122.8 883.8,122.9 883.5,123 883.3,123 883,122.9 882.8,122.7 882.5,122.6 882.3,122.4 882,122.6 881.8,122.9 881.5,123.1 881.3,123.1 881,123.1 880.8,123 880.5,122.9 880.3,122.9 880,122.8 879.8,122.8 879.5,122.8 879.3,122.7 879,122.7 878.8,122.7 878.5,122.9 878.3,123 878,123.2 877.8,123.1 877.5,123 877.3,123.2 877,123.4 876.8,123.6 876.5,123.7 876.3,123.7 876,123.8 875.8,123.9 875.5,124.1 875.3,124.3 875,124.4 874.8,124.5 874.5,124.6 874.3,124.6 874,125 873.8,125.3 873.5,125.5 873.3,125.6 873,125.8 872.8,126.1 872.5,126.4 872.3,126.4 872,126.3 871.8,126.3 871.5,126.5 871.3,126.7 871,126.6 870.8,126.5 870.5,126.5 870.3,126.6 870,126.7 869.8,126.6 869.5,126.3 869.3,126.2 869,126.3 868.8,126.4 868.5,126.5 868.3,126.6 868,126.5 867.8,126.5 867.5,126.4 867.3,126.4 867,126.4 866.8,126.5 866.5,126.6 866.3,126.7 866,126.8 865.8,126.8 865.5,126.7 865.3,126.7 865,126.6 864.8,126.5 864.5,126.5 864.3,126.6 864,126.7 863.8,126.8 863.5,126.6 863.3,126.5 863,126.5 862.8,126.5 862.5,126.5 862.3,126.6 862,126.7 861.8,126.6 861.5,126.5 861.3,126.5 861,126.4 860.8,126.4 860.5,126.5 860.3,126.6 860,126.7 859.8,126.7 859.5,126.7 859.3,126.6 859,126.4 858.8,126.4 858.5,126.4 858.3,126.5 858,126.5 857.8,126.6 857.5,126.7 857.3,126.8 857,127 856.8,126.9 856.5,126.8 856.3,126.6 856,126.8 855.8,126.9 855.5,126.8 855.3,126.6 855,126.6 854.8,126.7 854.5,126.8 854.3,126.7 854,126.5 853.8,126.5 853.5,126.5 853.3,126.6 853,126.7 852.8,126.8 852.5,126.8 852.3,126.8 852,126.8 851.8,126.9 851.5,127 851.3,127 851,126.9 850.8,126.9 850.5,126.8 850.3,126.8 850,126.8 849.8,126.9 849.5,127 849.3,126.9 849,126.9 848.8,127 848.5,127.1 848.3,127.3 848,127.3 847.8,127.2 847.5,127.3 847.3,127.3 847,127.3 846.8,127.3 846.5,127.3 846.3,127.2 846,127.1 845.8,126.9 845.5,127 845.3,132.4 845,132.4 844.8,132.4 844.5,132.4 844.3,132.4 844,132.4 843.8,132.4 843.5,132.4 843.3,132.4 843,132.4 842.8,128.1 842.5,129.2 842.3,129.1 842,129.1 841.8,128.7 841.5,128.5 841.3,128.5 841,129.3 840.8,130 840.5,129.5 840.3,128.8 840,128.3 839.8,128.6 839.5,128.7 839.3,129.2 839,129.9 838.8,130.2 838.5,130 838.3,129.6 838,129.6 837.8,129.6 837.5,129.7 837.3,129.8 837,130 836.8,129.9 836.5,129.7 836.3,129.5 836,129.8 835.8,130.2 835.5,130.2 835.3,129.8 835,129.3 834.8,129.1 834.5,129.1 834.3,129.3 834,135.6 833.8,135.6 833.5,135.6 833.3,135.6 833,135.6 832.8,135.6 832.5,130.4 832.3,130.5 832,130.6 831.8,130.6 831.5,130.3 831.3,129.9 831,130 830.8,130.5 830.5,130.7 830.3,130.2 830,129.6 829.8,129.7 829.5,130.1 829.3,130.5 829,130.7 828.8,130.8 828.5,130.7 828.3,130.5 828,130.2 827.8,129.9 827.5,129.8 827.3,130 827,130.5 826.8,130.8 826.5,130.7 826.3,130.4 826,130.3 825.8,130.4 825.5,130.6 825.3,130.9 825,130.5 824.8,129.8 824.5,130.3 824.3,130.3 824,130.2 823.8,129.9 823.5,130 823.3,130.4 823,130.5 822.8,130.7 822.5,130.4 822.3,130.1 822,130.3 821.8,130.8 821.5,131.1 821.3,130.8 821,130.9 820.8,130.6 820.5,130.2 820.3,130 820,130.6 819.8,134.4 819.5,134.4 819.3,134.4 819,134.4 818.8,134.4 818.5,130.7 818.3,130.5 818,130.8 817.8,131.2 817.5,131.3 817.3,131.3 817,131.2 816.8,131.5 816.5,131.3 816.3,130.9 816,130.4 815.8,129.9 815.5,130.4 815.3,131 815,131.5 814.8,131.4 814.5,131.4 814.3,131.3 814,131 813.8,131 813.5,138.4 813.3,138.4 813,138.4 812.8,138.4 812.5,138.4 812.3,138.4 812,130.7 811.8,130.7 811.5,130.2 811.3,130.1 811,130.1 810.8,130.3 810.5,130.6 810.3,130.6 810,130.5 809.8,130.4 809.5,130.5 809.3,130.6 809,130.7 808.8,130.6 808.5,130.6 808.3,130.4 808,130.2 807.8,130 807.5,130.1 807.3,130.2 807,130.2 806.8,130.7 806.5,131.1 806.3,131.2 806,131.3 805.8,131.3 805.5,131.1 805.3,130.8 805,130.5 804.8,131.1 804.5,131.2 804.3,130.6 804,130.2 803.8,130 803.5,139.4 803.3,139.4 803,139.4 802.8,139.4 802.5,139.4 802.3,139.4 802,130.7 801.8,130.8 801.5,130.8 801.3,130.8 801,130.8 800.8,130.9 800.5,131.2 800.3,131 800,131 799.8,131.1 799.5,131.6 799.3,131.8 799,131.7 798.8,131.5 798.5,140.4 798.3,140.4 798,140.4 797.8,140.4 797.5,140.4 797.3,133.3 797,141.4 796.8,141.4 796.5,141.4 796.3,141.4 796,141.4 795.8,141.4 795.5,135.2 795.3,136 795,136.3 794.8,136.3 794.5,136.2 794.3,136.5 794,137.2 793.8,137.2 793.5,137.7 793.3,138.4 793,146.4 792.8,146.4 792.5,146.4 792.3,146.4 792,146.4 791.8,146.4 791.5,139.8 791.3,140.4 791,141.3 790.8,141.3 790.5,141.2 790.3,141.1 790,141.4 789.8,141.9 789.5,142.4 789.3,143 789,143.4 788.8,144.1 788.5,160.6 788.3,160.6 788,160.6 787.8,160.6 787.5,160.6 787.3,160.6 787,160.6 786.8,151.6 786.5,153 786.3,154.4 786,155.3 785.8,154.8 785.5,154.6 785.3,154.4 785,154.3 784.8,154.2 784.5,154.1 784.3,154.1 784,154.1 783.8,154.6 783.5,155.1 783.3,155.6 783,155.4 782.8,155 782.5,154.7 782.3,154.8 782,154.9 781.8,155.1 781.5,154.9 781.3,154.5 781,154.2 780.8,154.5 780.5,154.7 780.3,154.6 780,154.4 779.8,154.4 779.5,154.6 779.3,154.6 779,154.9 778.8,154.8 778.5,155 778.3,155.2 778,154.8 777.8,154.5 777.5,154.3 777.3,154.4 777,154.4 776.8,154.7 776.5,154.8 776.3,154.9 776,154.9 775.8,155.2 775.5,155.4 775.3,155.6 775,155.7 774.8,156.2 774.5,156.1 774.3,155.6 774,155.3 773.8,155 773.5,154.9 773.3,154.8 773,154.9 772.8,155 772.5,155.1 772.3,155.1 772,155.2 771.8,155.2 771.5,155.3 771.3,155.5 771,155.6 770.8,155.7 770.5,155.7 770.3,155.8 770,156 769.8,156 769.5,156 769.3,156.1 769,156.2 768.8,156.3 768.5,156.4 768.3,156.4 768,156.4 767.8,156.3 767.5,156 767.3,155.8 767,156 766.8,155.9 766.5,155.7 766.3,155.6 766,155.7 765.8,155.7 765.5,155.8 765.3,155.8 765,155.7 764.8,155.6 764.5,156 764.3,156.2 764,156.3 763.8,156.5 763.5,156.7 763.3,156.8 763,156.6 762.8,156.8 762.5,156.6 762.3,156.1 762,155.7 761.8,155.5 761.5,155.8 761.3,156 761,156.4 760.8,156.7 760.5,157 760.3,157.2 760,157 759.8,156.8 759.5,156.8 759.3,156.8 759,156.7 758.8,156.6 758.5,157 758.3,157.4 758,157.8 757.8,157.8 757.5,157.7 757.3,157.7 757,157.8 756.8,157.8 756.5,157.5 756.3,157.2 756,157.1 755.8,157 755.5,156.9 755.3,157.2 755,157.8 754.8,158 754.5,157.6 754.3,157.3 754,156.7 753.8,156.5 753.5,156.8 753.3,157.1 753,157.2 752.8,156.9 752.5,156.7 752.3,156.6 752,156.6 751.8,156.6 751.5,156.6 751.3,156.7 751,156.9 750.8,157 750.5,156.9 750.3,157.3 750,157.5 749.8,157.4 749.5,157.6 749.3,158 749,158.4 748.8,158.2 748.5,158 748.3,157.7 748,157.3 747.8,157.1 747.5,156.8 747.3,156.9 747,157.2 746.8,157.5 746.5,157.7 746.3,157.8 746,158 745.8,158.4 745.5,158.8 745.3,158.7 745,158.3 744.8,158 744.5,157.9 744.3,158.2 744,158.3 743.8,158 743.5,157.7 743.3,157.4 743,157.2 742.8,157.4 742.5,157.7 742.3,157.9 742,157.8 741.8,158.1 741.5,158 741.3,158.4 741,158.4 740.8,158.2 740.5,158.4 740.3,158.4 740,158.4 739.8,162.6 739.5,162.6 739.3,162.6 739,162.6 738.8,162.6 738.5,162.6 738.3,162.6 738,159.4 737.8,159.7 737.5,159.4 737.3,158.8 737,158.3 736.8,158 736.5,158.2 736.3,158.5 736,158.9 735.8,159.5 735.5,159.3 735.3,159.7 735,160.1 734.8,159.7 734.5,159.2 734.3,159.1 734,159.2 733.8,158.7 733.5,158.1 733.3,157.5 733,157.4 732.8,157.6 732.5,157.8 732.3,158.1 732,158.2 731.8,158.2 731.5,158.2 731.3,158.1 731,158.6 730.8,158.6 730.5,159.2 730.3,159.4 730,159 729.8,158.8 729.5,158.7 729.3,158.7 729,158.9 728.8,159.2 728.5,159.4 728.3,159.2 728,159.1 727.8,159 727.5,158.8 727.3,159 727,159.3 726.8,159.8 726.5,160.2 726.3,160.3 726,160.1 725.8,159.9 725.5,160 725.3,159.5 725,159.3 724.8,158.7 724.5,158.6 724.3,158.9 724,158.9 723.8,158.8 723.5,158.9 723.3,158.7 723,158.4 722.8,158 722.5,157.6 722.3,158.1 722,158.8 721.8,159 721.5,159.2 721.3,159.3 721,159.1 720.8,158.9 720.5,158.2 720.3,158.3 720,158.8 719.8,159.2 719.5,159.5 719.3,160 719,160 718.8,159.6 718.5,159.1 718.3,158.8 718,159.1 717.8,159.3 717.5,158.9 717.3,159.1 717,159.4 716.8,159.4 716.5,159.6 716.3,160 716,160 715.8,159.4 715.5,158.8 715.3,158.1 715,157.7 714.8,158.2 714.5,158.5 714.3,158.8 714,159.2 713.8,159.4 713.5,159.3 713.3,159.1 713,158.8 712.8,158.4 712.5,158.6 712.3,159 712,159.2 711.8,159.4 711.5,159.5 711.3,160.1 711,160.5 710.8,160.7 710.5,160.8 710.3,160.6 710,160.4 709.8,159.8 709.5,159.2 709.3,159.1 709,159.2 708.8,159.4 708.5,159.6 708.3,159.8 708,159.8 707.8,160.2 707.5,160.6 707.3,160.5 707,160.8 706.8,160.4 706.5,159.8 706.3,159.2 706,158.6 705.8,158.4 705.5,158.7 705.3,159.1 705,159.3 704.8,159.5 704.5,159.7 704.3,159.8 704,160.1 703.8,159.9 703.5,159.6 703.3,159.6 703,159.8 702.8,160.1 702.5,160 702.3,160 702,159.9 701.8,159.8 701.5,159.6 701.3,159 701,158.9 700.8,158.7 700.5,158.7 700.3,159.1 700,159.3 699.8,159.5 699.5,159.7 699.3,159.7 699,162 698.8,162 698.5,162 698.3,162 698,162 697.8,162 697.5,159.9 697.3,160.2 697,160.8 696.8,161.3 696.5,160.8 696.3,160.4 696,160 695.8,159.8 695.5,159.9 695.3,159.9 695,160 694.8,159.7 694.5,159.7 694.3,159.8 694,159.9 693.8,160 693.5,160 693.3,160.3 693,160.5 692.8,160.6 692.5,160.7 692.3,160.9 692,161.2 691.8,161.2 691.5,161.1 691.3,161 691,160.9 690.8,160.8 690.5,160.1 690.3,159.4 690,158.8 689.8,158.7 689.5,159 689.3,159.4 689,159.7 688.8,160 688.5,160.3 688.3,160.3 688,160.6 687.8,160.9 687.5,161 687.3,161.1 687,161.1 686.8,160.9 686.5,160.6 686.3,160.3 686,160.1 685.8,160 685.5,160 685.3,159.8 685,160.4 684.8,161 684.5,161 684.3,161 684,161.1 683.8,161.4 683.5,161.6 683.3,161.9 683,162.2 682.8,161.7 682.5,161.4 682.3,161.9 682,161.9 681.8,161.9 681.5,162.2 681.3,162.6 681,161.8 680.8,161.3 680.5,162.2 680.3,161.7 680,162.1 679.8,162.5 679.5,163.4 679.3,164.3 679,164.6 678.8,165" fill="#d3d3d3"/>
<polyline points="828.3,126.4 828.5,131.3 828.8,127.3 829,128 829.3,132 829.5,124.7 829.8,124 830,126.1 830.3,127.4 830.5,125.9 830.8,128.1 831,128 831.3,125 831.5,128.4 831.8,125.2 832,129.5 832.3,128.5 832.5,119.9 832.8,129.7 833,135 833.3,128.7 833.5,128.3 833.8,126.5 834,125.1 834.3,130.2 834.5,131 834.8,127 835,127.4 835.3,126.9 835.5,129.9 835.8,130.2 836,126 836.3,127.1 836.5,126.6 836.8,128.1 837,129.2 837.3,129.7 837.5,127 837.8,125.6 838,128.6 838.3,128.6 838.5,126.7 838.8,127.7 839,128.1 839.3,129.1 839.5,127.4 839.8,128.2 840,127.5 840.3,125.2 840.5,128.5 840.8,127.3 841,129.1 841.3,124.6 841.5,125.6 841.8,127.6 842,123.5 842.3,126.6 842.5,125.9 842.8,125.9 843,126.2 843.3,122.2 843.5,64.5 843.8,64.5 844,133.4 844.3,129.4 844.5,127.2 844.8,128.4 845,121.7 845.3,127.6 845.5,128.6 845.8,128.2 846,126.9 846.3,125.7 846.5,125.6 846.8,126.4 847,127.2 847.3,127.4 847.5,126.1 847.8,123.7 848,129.9 848.3,124.5 848.5,120.8 848.8,129 849,128.2 849.3,126.5 849.5,128.1 849.8,127 850,124.4 850.3,126.3 850.5,123.6 850.8,124.7 851,124.3 851.3,126.3 851.5,128.1 851.8,113.2 852,126.8 852.3,121.6 852.5,123.7 852.8,126.9 853,127.7 853.3,127.7 853.5,128 853.8,122.5 854,124.8 854.3,120.7 854.5,125.5 854.8,126.3 855,125.1 855.3,123.9 855.5,126.7 855.8,126.9 856,126.1 856.3,124.6 856.5,125.9 856.8,125.9 857,126.3 857.3,127 857.5,125.7 857.8,122.9 858,125.2 858.3,126.5 858.5,124.9 858.8,126.2 859,124.4 859.3,128.4 859.5,126.5 859.8,126 860,127.2 860.3,127.2 860.5,125.9 860.8,127.7 861,127 861.3,126.1 861.5,125.7 861.8,123.5 862,126.1 862.3,126 862.5,124 862.8,128.4 863,125.7 863.3,123.5 863.5,124.8 863.8,125.6 864,125.6 864.3,124.1 864.5,125.7 864.8,122.7 865,124.8 865.3,126.5 865.5,124.3 865.8,127 866,127.3 866.3,124.5 866.5,120.9 866.8,127.4 867,128.4 867.3,122.5 867.5,126.1 867.8,126.3 868,122.4 868.3,124.6 868.5,128.2 868.8,126.1 869,125.7 869.3,128 869.5,124.5 869.8,122.1 870,128.4 870.3,124.1 870.5,125.7 870.8,128 871,126.3 871.3,126.1 871.5,124.5 871.8,126.9 872,130.1 872.3,124.3 872.5,123.1 872.8,125.8 873,123.6 873.3,125.1 873.5,124.7 873.8,125.5 874,124.8 874.3,124.8 874.5,126.6 874.8,122 875,123.8 875.3,124.2 875.5,121 875.8,116.9 876,122.4 876.3,121.9 876.5,125 876.8,122.9 877,128.3 877.3,121.5 877.5,121.5 877.8,126.6 878,121 878.3,126.5 878.5,115.9 878.8,120.8 879,124.9 879.3,125.3 879.5,123 879.8,120.8 880,121.8 880.3,123.6 880.5,113.2 880.8,124 881,120.6 881.3,123.7 881.5,124.6 881.8,128.2 882,123.5 882.3,123.5 882.5,120.4 882.8,119.4 883,117.5 883.3,123 883.5,126.1 883.8,121.8 884,117.1 884.3,122.4 884.5,121.6 884.8,121.3 885,125.5 885.3,124.5 885.5,125 885.8,120.4 886,122.7 886.3,119.8 886.5,124.3 886.8,116.9 887,124.6 887.3,122.5 887.5,122.5 887.8,119.2 888,123.5 888.3,118.4 888.5,119.6 888.8,120.2 889,126.2 889.3,122.3 889.5,120.7 889.8,123.1 890,126.8 890.3,121.8 890.5,120 890.8,119.8 891,122" fill="none" stroke="#000" stroke-width="1.7" stroke-linejoin="round" />
<polyline points="828.3,128.5 828.5,127.9 828.8,128.9 829,128.3 829.3,128.3 829.5,128.4 829.8,127.5 830,128.4 830.3,128.6 830.5,128.3 830.8,128.2 831,127.7 831.3,128.4 831.5,128.2 831.8,128.1 832,127.9 832.3,128.4 832.5,123.9 832.8,128.2 833,130.9 833.3,128.6 833.5,128.7 833.8,128.1 834,127.9 834.3,127.8 834.5,128 834.8,128.2 835,128.3 835.3,127.7 835.5,127.9 835.8,127.4 836,128.3 836.3,127.6 836.5,127.9 836.8,127.4 837,127.5 837.3,127.3 837.5,128.3 837.8,127.7 838,127.4 838.3,127.1 838.5,127.2 838.8,127.6 839,128 839.3,126.7 839.5,126.9 839.8,127.2 840,126.9 840.3,126.5 840.5,127.1 840.8,127.4 841,126.4 841.3,127.1 841.5,127.4 841.8,127.3 842,126.7 842.3,127.8 842.5,127 842.8,126.4 843,127.1 843.3,126.2 843.5,66.6 843.8,66.6 844,126.9 844.3,132.4 844.5,127 844.8,126.8 845,126.7 845.3,126.5 845.5,126.9 845.8,125.7 846,126.6 846.3,126.6 846.5,126.6 846.8,126.7 847,127.9 847.3,126.3 847.5,126.6 847.8,126.3 848,126.9 848.3,125.4 848.5,126.9 848.8,125.9 849,125.2 849.3,125.7 849.5,126 849.8,126.2 850,126.1 850.3,126.4 850.5,126 850.8,126 851,125.1 851.3,126.2 851.5,126.4 851.8,121.9 852,125.1 852.3,125.3 852.5,126.6 852.8,125.6 853,125.6 853.3,125.5 853.5,126.1 853.8,125.6 854,125.5 854.3,125.2 854.5,125.8 854.8,126.2 855,125.7 855.3,126.2 855.5,125.9 855.8,125.8 856,125.9 856.3,125.8 856.5,126.2 856.8,126 857,125.5 857.3,125.8 857.5,125.7 857.8,126 858,125.8 858.3,125.9 858.5,125.1 858.8,125.9 859,126.3 859.3,125.2 859.5,126.4 859.8,125.8 860,125.6 860.3,125 860.5,126.2 860.8,125.3 861,125.5 861.3,125.9 861.5,125.3 861.8,125.3 862,125.2 862.3,125.6 862.5,125.9 862.8,125.8 863,125.8 863.3,125.5 863.5,125.7 863.8,125.4 864,126.5 864.3,125.7 864.5,124.8 864.8,125.2 865,126.3 865.3,125.1 865.5,125.5 865.8,125.8 866,125.2 866.3,126.1 866.5,126.4 866.8,125.3 867,126.1 867.3,125.3 867.5,125.3 867.8,125.8 868,125.9 868.3,125.5 868.5,126.2 868.8,125.3 869,125.7 869.3,125.7 869.5,126.6 869.8,126.7 870,126.8 870.3,126.1 870.5,126.8 870.8,127.1 871,126.3 871.3,126.6 871.5,127.2 871.8,127.2 872,126.8 872.3,126.7 872.5,126.3 872.8,125.9 873,125.5 873.3,124.9 873.5,124.9 873.8,124.6 874,125.5 874.3,124.4 874.5,124.1 874.8,123.8 875,123.6 875.3,123.4 875.5,123.6 875.8,118.9 876,123.3 876.3,122.5 876.5,122.8 876.8,122.9 877,121.9 877.3,122.2 877.5,122.1 877.8,121.9 878,121.8 878.3,121.2 878.5,122.5 878.8,121.6 879,121.5 879.3,122.3 879.5,121.2 879.8,122.4 880,122.2 880.3,122.2 880.5,115.9 880.8,115.9 881,121.2 881.3,122.6 881.5,121.7 881.8,121.7 882,122.6 882.3,121.7 882.5,121.8 882.8,121.8 883,121.9 883.3,121.5 883.5,121.7 883.8,122.4 884,122.2 884.3,120.6 884.5,121.1 884.8,122 885,121.8 885.3,121.7 885.5,122.3 885.8,121.1 886,122.4 886.3,121.9 886.5,118.4 886.8,122 887,122.2 887.3,121.8 887.5,121.7 887.8,122.2 888,122 888.3,121.4 888.5,122.5 888.8,122.4 889,122.5 889.3,121.9 889.5,122.1 889.8,121.8 890,121.5 890.3,122 890.5,122 890.8,121.7 891,122.7" fill="none" stroke="#b671aa" stroke-width="1.55" stroke-linejoin="round" />
<g fill="#cc86c3"><circle cx="689.1" cy="159.6" r="1.25"/><circle cx="702.6" cy="157.6" r="1.25"/><circle cx="714.1" cy="157" r="1.25"/><circle cx="729.6" cy="156.4" r="1.25"/><circle cx="738.8" cy="156.8" r="1.25"/><circle cx="746.4" cy="156.6" r="1.25"/><circle cx="757.4" cy="155.2" r="1.25"/><circle cx="758.8" cy="154" r="1.25"/><circle cx="765.3" cy="154.2" r="1.25"/><circle cx="767.4" cy="153.6" r="1.25"/><circle cx="773.2" cy="152.8" r="1.25"/><circle cx="785.9" cy="145.4" r="1.25"/><circle cx="792.6" cy="135" r="1.25"/><circle cx="798.5" cy="129.4" r="1.25"/><circle cx="816.3" cy="124.6" r="1.25"/><circle cx="826.3" cy="126.6" r="1.25"/></g>
<g fill="#5c5c5c" fill-opacity="0.7" stroke="#262626" stroke-opacity="0.8" stroke-width="0.7"><circle cx="689.1" cy="160.4" r="1.9"/><circle cx="702.6" cy="155.6" r="1.9"/><circle cx="714.1" cy="156.8" r="1.9"/><circle cx="729.6" cy="155.1" r="1.9"/><circle cx="738.8" cy="159.1" r="1.9"/><circle cx="746.4" cy="156.8" r="1.9"/><circle cx="757.4" cy="157.4" r="1.9"/><circle cx="758.8" cy="152.6" r="1.9"/><circle cx="765.3" cy="153.8" r="1.9"/><circle cx="767.4" cy="156.5" r="1.9"/><circle cx="773.2" cy="152.4" r="1.9"/><circle cx="785.9" cy="148.2" r="1.9"/><circle cx="792.6" cy="132.9" r="1.9"/><circle cx="798.5" cy="128.9" r="1.9"/><circle cx="816.3" cy="125.2" r="1.9"/><circle cx="826.3" cy="123.6" r="1.9"/></g>
</g>
<path d="M673.9 172.2h4.9M673.9 161.6h4.9M673.9 153.4h4.9M673.9 146.6h4.9M673.9 141h4.9M673.9 136h4.9M673.9 131.7h4.9M671.6 127.8h7.2M673.9 102.3h4.9M673.9 87.3h4.9M673.9 76.7h4.9M673.9 68.5h4.9M673.9 61.7h4.9M673.9 56.1h4.9M673.9 51.1h4.9M673.9 46.8h4.9M671.6 42.9h7.2M673.9 17.4h4.9M673.9 2.4h4.9M702.5 172.2v4.9M724.9 172.2v7.2M794.2 172.2v4.9M834.8 172.2v4.9M863.6 172.2v4.9M885.9 172.2v4.9" stroke="#000" stroke-width="1.45" fill="none"/>
<text x="629.7" y="133.3" font-size="16.0" text-anchor="start">10<tspan font-size="11.2" dy="-6.2" dx="0.7">−6</tspan></text>
<text x="629.7" y="48.4" font-size="16.0" text-anchor="start">10<tspan font-size="11.2" dy="-6.2" dx="0.7">−5</tspan></text>
<text x="702.5" y="192.9" font-size="16.0" text-anchor="middle" >0.8</text>
<text x="724.9" y="195" font-size="16.0" text-anchor="middle" >1</text>
<text x="794.2" y="192.9" font-size="16.0" text-anchor="middle" >2</text>
<text x="834.8" y="192.9" font-size="16.0" text-anchor="middle" >3</text>
<text x="863.6" y="192.9" font-size="16.0" text-anchor="middle" >4</text>
<text x="885.9" y="192.9" font-size="16.0" text-anchor="middle" >5</text>
<text transform="translate(621.8 87.3) rotate(-90)" font-size="18.0" text-anchor="middle">Flux density [Jy]</text>
<rect x="678.8" y="2.4" width="216.8" height="169.8" fill="none" stroke="#000" stroke-width="1.6"/>
<text x="687.3" y="21.7" font-size="15.7" text-anchor="start" >Photometry + G395M</text>
<g clip-path="url(#c03)">
<path d="M982.3 162.9H997V164.9H982.3ZM997 139.2H1014.4V151.5H997ZM1014.4 99.2H1031.7V128.1H1014.4ZM1031.7 123.1H1049.1V145.4H1031.7ZM1049.1 141.7H1066.4V155.3H1049.1ZM1066.4 133H1083.8V146.6H1066.4ZM1083.8 123.1H1101.1V142.9H1083.8ZM1101.1 131.8H1118.5V150.3H1101.1ZM1118.5 129.3H1135.8V151.5H1118.5ZM1135.8 142.9H1153.1V159H1135.8ZM1153.1 127.3H1170.5V156.5H1153.1ZM1170.5 151.5H1187.8V163.9H1170.5ZM1187.8 161.4H1199.1V166.4H1187.8Z" fill="#efe1ed"/>
<path d="M982.3 163.9H997V145.4H1014.4V114.5H1031.7V136.7H1049.1V149.1H1066.4V139.6H1083.8V134.8H1101.1V140.9H1118.5V142.2H1135.8V151H1153.1V143.6H1170.5V158.2H1187.8V164.4H1199.1" fill="none" stroke="#b671aa" stroke-width="2.05" stroke-linejoin="miter"/>
<path d="M982.3 164H997V101H1014.4V166H1031.7V121.1H1049.1V166H1066.4V128.6H1083.8V166H1101.1V133H1118.5V166H1135.8V136.5H1153.1V166H1170.5V138.6H1187.8V166H1199.1" fill="none" stroke="#6b6b6b" stroke-width="2.05" stroke-dasharray="2.05 3.38"/>
</g>
<path d="M975.3 167.4h7M975.3 115.9h7M975.3 64.5h7M975.3 13h7M982.3 172.2v7M1069 172.2v7M1155.7 172.2v7" stroke="#000" stroke-width="1.45" fill="none"/>
<text x="971.6" y="173.3" font-size="16.0" text-anchor="end" >0</text>
<text x="971.6" y="121.8" font-size="16.0" text-anchor="end" >50</text>
<text x="971.6" y="70.4" font-size="16.0" text-anchor="end" >100</text>
<text x="971.6" y="18.9" font-size="16.0" text-anchor="end" >150</text>
<text x="982.3" y="194.9" font-size="16.0" text-anchor="middle" >0</text>
<text x="1069" y="194.9" font-size="16.0" text-anchor="middle" >200</text>
<text x="1155.7" y="194.9" font-size="16.0" text-anchor="middle" >400</text>
<text transform="translate(931.9 87.3) rotate(-90)" font-size="18.0" text-anchor="middle">SFR [M<tspan font-size="10.8" dy="2.6" dx="3.2">⊙</tspan><tspan dy="-2.6" dx="0.7"> yr</tspan><tspan font-size="12.6" dy="-7">−1</tspan><tspan dy="7">]</tspan></text>
<rect x="982.3" y="2.4" width="216.8" height="169.8" fill="none" stroke="#000" stroke-width="1.6"/>
<text x="990.8" y="21.7" font-size="15.7" text-anchor="start" >Continuity prior</text>
<g clip-path="url(#c10)">
<polygon points="72.1,362.2 72.3,361.9 72.6,361.6 72.8,361.3 73.1,361 73.3,360.6 73.6,359.6 73.8,358.7 74.1,359.4 74.3,359.7 74.6,359.4 74.8,359.8 75.1,360.1 75.3,360.5 75.6,360.1 75.8,359.9 76.1,359.7 76.3,359.8 76.6,360.4 76.8,361 77.1,360.8 77.3,360.1 77.6,359.9 77.8,360.3 78.1,359.9 78.3,359.9 78.6,359.7 78.8,359.8 79.1,360 79.3,360 79.6,359.9 79.8,359.7 80.1,360.1 80.3,360.6 80.6,360.5 80.8,360.3 81.1,360.2 81.3,360.4 81.6,360.6 81.8,360.4 82.1,360.2 82.3,359.9 82.6,359.3 82.8,358.8 83.1,358.8 83.3,358.9 83.6,359 83.8,359.4 84.1,359.8 84.3,360.4 84.6,361 84.8,361.1 85.1,360.9 85.3,360.8 85.6,361.1 85.8,360.6 86.1,360.6 86.3,360.6 86.6,360.6 86.8,360.3 87.1,359.9 87.3,359.7 87.6,359.6 87.8,359.8 88.1,359.3 88.3,359.1 88.6,359.7 88.8,360.1 89.1,360 89.3,360.1 89.6,360.2 89.8,360.5 90.1,360.5 90.3,360.5 90.6,360.3 90.8,360.2 91.1,360.1 91.3,360.1 91.6,359.9 91.8,359.7 92.1,359.6 92.3,359.6 92.6,359.6 92.8,359.9 93.1,359.6 93.3,359.5 93.6,359.4 93.8,359 94.1,358.6 94.3,358.6 94.6,359.3 94.8,359.4 95.1,359.6 95.3,360 95.6,360.2 95.8,360.2 96.1,360.1 96.3,360.1 96.6,360 96.8,360 97.1,360 97.3,360 97.6,360 97.8,359.9 98.1,359.7 98.3,359.3 98.6,359 98.8,359 99.1,358.7 99.3,358.9 99.6,359.2 99.8,359.7 100.1,360.5 100.3,360.9 100.6,360.7 100.8,360.2 101.1,360 101.3,360 101.6,359.9 101.8,359.8 102.1,359.7 102.3,359.4 102.6,359.1 102.8,359.3 103.1,360 103.3,360 103.6,360.4 103.8,360.7 104.1,360.6 104.3,360.3 104.6,360 104.8,359.6 105.1,359.3 105.3,359.1 105.6,359 105.8,358.9 106.1,358.7 106.3,358.6 106.6,358.7 106.8,358.9 107.1,358.9 107.3,358.8 107.6,358.6 107.8,358.6 108.1,358.1 108.3,357.9 108.6,357.8 108.8,358.2 109.1,358.8 109.3,359.4 109.6,359.9 109.8,360 110.1,359.4 110.3,358.9 110.6,358.6 110.8,358.9 111.1,359.2 111.3,359.1 111.6,359.1 111.8,359.1 112.1,359.1 112.3,359.2 112.6,359.8 112.8,359.9 113.1,359.5 113.3,359 113.6,358.5 113.8,358.4 114.1,358.6 114.3,359.2 114.6,359.5 114.8,359.5 115.1,359 115.3,358.5 115.6,358.3 115.8,358 116.1,358.3 116.3,358.6 116.6,358.8 116.8,358.9 117.1,358.7 117.3,358.5 117.6,358.4 117.8,358.5 118.1,359 118.3,359.5 118.6,359.9 118.8,360.2 119.1,360.3 119.3,360.3 119.6,360.1 119.8,359.9 120.1,359.3 120.3,359.3 120.6,359.3 120.8,359.1 121.1,359 121.3,358.9 121.6,359.4 121.8,359.7 122.1,359.3 122.3,358.8 122.6,358.6 122.8,358.8 123.1,359.2 123.3,359.1 123.6,359.1 123.8,358.9 124.1,358.6 124.3,358.4 124.6,358.6 124.8,358.1 125.1,358 125.3,358 125.6,357.9 125.8,357.8 126.1,357.7 126.3,357.6 126.6,357.6 126.8,358.1 127.1,358.6 127.3,359 127.6,359.3 127.8,359.5 128.1,359.8 128.3,360 128.6,359.5 128.8,358.8 129.1,358.1 129.3,358.1 129.6,358.2 129.8,358.2 130.1,358.3 130.3,358.7 130.6,359.1 130.8,359.5 131.1,359.9 131.3,359.5 131.6,359.2 131.8,358.9 132.1,358.7 132.3,358.8 132.6,358.7 132.8,358.6 133.1,358.5 133.3,358.5 133.6,358.7 133.8,358.4 134.1,358.4 134.3,358.4 134.6,358.3 134.8,358 135.1,357.8 135.3,358.1 135.6,358 135.8,357.7 136.1,357.7 136.3,357.6 136.6,357.8 136.8,358 137.1,358.2 137.3,358.2 137.6,358 137.8,357.9 138.1,357.9 138.3,358.2 138.6,358.6 138.8,358.8 139.1,358.6 139.3,358.3 139.6,358.1 139.8,357.4 140.1,357.3 140.3,357.3 140.6,356.9 140.8,357.1 141.1,357.4 141.3,357.6 141.6,357.6 141.8,358.1 142.1,358.6 142.3,358.5 142.6,358.4 142.8,357.9 143.1,357.7 143.3,357.5 143.6,357.3 143.8,357.3 144.1,357.1 144.3,357.1 144.6,356.8 144.8,356.7 145.1,356.6 145.3,356.7 145.6,357 145.8,356.9 146.1,356.9 146.3,356.9 146.6,356.9 146.8,356.9 147.1,356.9 147.3,357 147.6,357.3 147.8,357.8 148.1,358.3 148.3,357.8 148.6,357.4 148.8,357.1 149.1,357.2 149.3,357.3 149.6,357.4 149.8,357.1 150.1,356.8 150.3,357.4 150.6,357.7 150.8,357.8 151.1,357.7 151.3,357.5 151.6,357.4 151.8,357.2 152.1,357 152.3,356.9 152.6,356.9 152.8,356.9 153.1,356.9 153.3,357.1 153.6,357.2 153.8,357 154.1,356.6 154.3,356.3 154.6,356.2 154.8,356.1 155.1,355.8 155.3,355.9 155.6,356.3 155.8,356.8 156.1,357 156.3,356.9 156.6,356.9 156.8,356.9 157.1,356.8 157.3,356.5 157.6,356.5 157.8,356.4 158.1,356.1 158.3,355.9 158.6,355.9 158.8,356 159.1,356 159.3,356.1 159.6,355.8 159.8,355.8 160.1,355.9 160.3,355.8 160.6,356 160.8,356.2 161.1,356.5 161.3,356.7 161.6,356.8 161.8,356.8 162.1,356.7 162.3,356.5 162.6,356.3 162.8,356.2 163.1,356.1 163.3,355.9 163.6,355.6 163.8,355.4 164.1,355.7 164.3,356.1 164.6,355.7 164.8,355.8 165.1,355.5 165.3,355.6 165.6,355.5 165.8,355.5 166.1,355.2 166.3,355 166.6,355 166.8,355.2 167.1,355.2 167.3,355.4 167.6,355.9 167.8,356.1 168.1,355.5 168.3,355.5 168.6,355.6 168.8,355.4 169.1,355.1 169.3,354.9 169.6,354.9 169.8,355 170.1,354.9 170.3,354.7 170.6,354.6 170.8,354.5 171.1,354.7 171.3,355.1 171.6,355.1 171.8,354.9 172.1,354.7 172.3,354.7 172.6,354.7 172.8,353.6 173.1,353.6 173.3,354.3 173.6,354.9 173.8,355.1 174.1,354.7 174.3,354.6 174.6,354.7 174.8,355.1 175.1,355.4 175.3,355.2 175.6,354.8 175.8,354.4 176.1,354.6 176.3,354.9 176.6,355.2 176.8,355 177.1,354.3 177.3,353.9 177.6,353.9 177.8,353.9 178.1,354.1 178.3,354.3 178.6,354.2 178.8,354.1 179.1,354.3 179.3,327.2 179.6,327.2 179.8,327.2 180.1,327.2 180.3,327.2 180.6,327.2 180.8,327.2 181.1,345.3 181.3,344.6 181.6,343.8 181.8,342.7 182.1,341.7 182.3,340.8 182.6,340.2 182.8,339.5 183.1,314.3 183.3,314.3 183.6,314.3 183.8,314.3 184.1,314.3 184.3,314.3 184.6,314.3 184.8,336.3 185.1,335.9 185.3,335.8 185.6,335.4 185.8,335.2 186.1,335.1 186.3,335.4 186.6,334.9 186.8,334.5 187.1,334.2 187.3,334 187.6,333.9 187.8,333.9 188.1,330.2 188.3,330.2 188.6,330.2 188.8,330.2 189.1,330.2 189.3,330.2 189.6,332.6 189.8,332.4 190.1,332.4 190.3,332.3 190.6,332.2 190.8,332.1 191.1,331.9 191.3,331.6 191.6,331.4 191.8,331.2 192.1,331.1 192.3,331.1 192.6,330.9 192.8,330.8 193.1,330.7 193.3,330.5 193.6,330.6 193.8,330.7 194.1,330.7 194.3,330.5 194.6,326.2 194.8,326.2 195.1,326.2 195.3,326.2 195.6,326.2 195.8,326.2 196.1,326.2 196.3,330.1 196.6,330 196.8,330.1 197.1,329.8 197.3,329.8 197.6,330.2 197.8,330.9 198.1,330.8 198.3,330.4 198.6,330.1 198.8,330.5 199.1,330.7 199.3,330.3 199.6,330.5 199.8,330.4 200.1,330.3 200.3,330.2 200.6,330 200.8,329.9 201.1,329.8 201.3,330.1 201.6,330.2 201.8,330.4 202.1,330.2 202.3,330.1 202.6,330.3 202.8,330.3 203.1,330.1 203.3,330 203.6,330 203.8,330.3 204.1,330.2 204.3,329.9 204.6,329.8 204.8,329.9 205.1,330.1 205.3,329.8 205.6,329.5 205.8,329.3 206.1,329.6 206.3,301.2 206.6,301.2 206.8,301.2 207.1,301.2 207.3,301.2 207.6,301.2 207.8,275.7 208.1,275.7 208.3,275.7 208.6,275.7 208.8,275.7 209.1,239.8 209.3,239.8 209.6,239.8 209.8,239.8 210.1,239.8 210.3,239.8 210.6,239.8 210.8,286.2 211.1,286.2 211.3,311.2 211.6,311.2 211.8,311.2 212.1,330.2 212.3,330.5 212.6,330.8 212.8,331.2 213.1,331 213.3,330.2 213.6,329.4 213.8,329.6 214.1,330 214.3,330.3 214.6,330.7 214.8,330.8 215.1,330.7 215.3,330.4 215.6,330 215.8,330.3 216.1,330.5 216.3,330.4 216.6,330 216.8,329.7 217.1,329.8 217.3,329.9 217.6,329.8 217.8,329.6 218.1,329.6 218.3,329.7 218.6,329.9 218.8,330.2 219.1,330.3 219.3,330.1 219.6,330 219.8,330.4 220.1,330.5 220.3,329.9 220.6,329.7 220.8,329.8 221.1,329.9 221.3,329.9 221.6,330 221.8,330.3 222.1,330.5 222.3,330.4 222.6,330.3 222.8,330 223.1,329.7 223.3,329.6 223.6,329.8 223.8,330 224.1,330.2 224.3,329.7 224.6,329.3 224.8,329.4 225.1,329.5 225.3,319.7 225.6,319.7 225.8,319.7 226.1,319.7 226.3,319.7 226.6,319.7 226.8,330.2 227.1,329.9 227.3,329.5 227.6,329.2 227.8,329.1 228.1,329.1 228.3,329.2 228.6,329.3 228.8,329.8 229.1,330 229.3,329.6 229.6,329.5 229.8,329.8 230.1,329.9 230.3,329.9 230.6,329.6 230.8,329.3 231.1,329.1 231.3,329.1 231.6,329 231.8,329.2 232.1,329.5 232.3,329.4 232.6,328.9 232.8,328.2 233.1,327.9 233.3,327.8 233.6,328.3 233.8,329.3 234.1,329.8 234.3,328.9 234.6,328 234.8,328.1 235.1,328.7 235.3,328.9 235.6,323.7 235.8,323.7 236.1,247.6 236.3,247.6 236.6,247.6 236.8,247.6 237.1,247.6 237.3,247.6 237.6,247.6 237.8,323.7 238.1,323.7 238.3,323.7 238.6,323.7 238.8,323.7 239.1,326.2 239.3,326.2 239.6,326.2 239.8,326.2 240.1,329.3 240.3,329.5 240.6,329.4 240.8,329.4 241.1,329.3 241.3,329.3 241.6,329.3 241.8,329.2 242.1,329.1 242.3,329 242.6,329 242.8,329.1 243.1,328.9 243.3,328.8 243.6,328.8 243.8,328.9 244.1,328.9 244.3,328.9 244.6,317 244.8,317 245.1,317 245.3,317 245.6,317 245.8,317 246.1,328.8 246.3,328.7 246.6,328.7 246.8,328.7 247.1,328.7 247.3,328.7 247.6,328.7 247.8,328.6 248.1,328.6 248.3,328.6 248.6,328.7 248.8,328.7 249.1,328.8 249.3,328.8 249.6,328.8 249.8,328.9 250.1,329 250.3,329.1 250.6,328.9 250.8,328.7 251.1,328.6 251.3,328.5 251.6,328.5 251.8,328.5 252.1,328.5 252.3,328.5 252.6,328.7 252.8,328.7 253.1,328.7 253.3,328.7 253.6,328.7 253.8,328.6 254.1,328.6 254.3,328.6 254.6,328.6 254.8,328.7 255.1,328.7 255.3,328.7 255.6,328.6 255.8,328.6 256.1,328.6 256.4,328.5 256.6,328.5 256.9,328.7 257.1,328.8 257.4,328.6 257.6,328.6 257.9,328.6 258.1,328.7 258.4,328.7 258.6,328.8 258.9,328.8 259.1,328.8 259.4,328.8 259.6,328.7 259.9,328.6 260.1,328.5 260.4,328.4 260.6,328.4 260.9,328.5 261.1,328.6 261.4,328.7 261.6,328.6 261.9,328.6 262.1,328.6 262.4,328.3 262.6,328.2 262.9,328.3 263.1,328.6 263.4,328.9 263.6,328.8 263.9,328.6 264.1,328.5 264.4,328.7 264.6,328.7 264.9,328.6 265.1,328.4 265.4,328.4 265.6,328.5 265.9,328.5 266.1,328.1 266.4,327.8 266.6,327.6 266.9,327.6 267.1,327.3 267.4,327.1 267.6,326.8 267.9,326.7 268.1,326.7 268.4,326.6 268.6,323.2 268.9,323.2 269.1,323.2 269.4,323.2 269.6,323.2 269.9,325.7 270.1,325.6 270.4,325.4 270.6,325.2 270.9,325.1 271.1,325.1 271.4,325.1 271.6,325 271.9,324.8 272.1,324.9 272.4,324.7 272.6,324.7 272.9,324.9 273.1,324.9 273.4,319 273.6,319 273.9,319 274.1,319 274.4,319 274.6,319 274.9,325.1 275.1,325 275.4,324.7 275.6,324.5 275.9,324.7 276.1,324.8 276.4,325 276.6,325.1 276.9,325.2 277.1,325.1 277.4,324.9 277.6,324.8 277.9,324.7 278.1,324.7 278.4,324.8 278.6,324.9 278.9,324.8 279.1,324.7 279.4,324.8 279.6,324.8 279.9,324.9 280.1,324.9 280.4,324.8 280.6,324.8 280.9,324.9 281.1,325.1 281.4,325 281.6,325 281.9,324.9 282.1,324.7 282.4,324.7 282.6,324.9 282.9,325 283.1,325 283.4,325 283.6,325.1 283.9,324.9 284.1,324.7 284.4,324.7 284.6,324.8 284.9,324.7 285.1,324.6 285.4,324.5 285.6,324.7 285.9,325 286.1,325 286.4,324.9 286.6,324.8 286.9,324.7 287.1,324.6 287.4,324.5 287.6,324.5 287.9,324.6 288.1,324.8 288.4,324.9 288.6,325 288.9,325.1 288.9,326.8 288.6,326.7 288.4,326.6 288.1,326.4 287.9,326.3 287.6,326.2 287.4,326.2 287.1,326.3 286.9,326.4 286.6,326.5 286.4,326.6 286.1,326.7 285.9,326.6 285.6,326.4 285.4,326.1 285.1,326.3 284.9,326.5 284.6,326.5 284.4,326.5 284.1,326.4 283.9,326.6 283.6,326.7 283.4,326.8 283.1,326.7 282.9,326.7 282.6,326.5 282.4,326.4 282.1,326.6 281.9,326.7 281.6,326.7 281.4,326.8 281.1,326.8 280.9,326.7 280.6,326.6 280.4,326.6 280.1,326.6 279.9,326.6 279.6,326.6 279.4,326.4 279.1,326.5 278.9,326.5 278.6,326.6 278.4,326.5 278.1,326.5 277.9,326.5 277.6,326.5 277.4,326.6 277.1,326.7 276.9,326.8 276.6,326.8 276.4,326.7 276.1,326.5 275.9,326.4 275.6,326.2 275.4,326.4 275.1,326.7 274.9,326.9 274.6,326.9 274.4,326.9 274.1,326.8 273.9,326.7 273.6,326.7 273.4,326.6 273.1,326.6 272.9,326.6 272.6,326.5 272.4,326.5 272.1,326.5 271.9,326.7 271.6,326.8 271.4,327 271.1,326.9 270.9,326.8 270.6,327 270.4,327.2 270.1,327.4 269.9,327.5 269.6,327.5 269.4,327.6 269.1,327.7 268.9,327.9 268.6,328.1 268.4,328.2 268.1,328.3 267.9,328.4 267.6,328.4 267.4,328.8 267.1,329.1 266.9,329.3 266.6,329.4 266.4,329.6 266.1,329.9 265.9,330.2 265.6,330.2 265.4,330.1 265.1,330.1 264.9,330.3 264.6,330.5 264.4,330.4 264.1,330.3 263.9,330.3 263.6,330.4 263.4,330.5 263.1,330.4 262.9,330.1 262.6,330 262.4,330.1 262.1,330.2 261.9,330.3 261.6,330.4 261.4,330.3 261.1,330.3 260.9,330.2 260.6,330.2 260.4,330.2 260.1,330.3 259.9,330.4 259.6,330.5 259.4,330.6 259.1,330.6 258.9,330.5 258.6,330.5 258.4,330.4 258.1,330.3 257.9,330.3 257.6,330.4 257.4,330.5 257.1,330.6 256.9,330.4 256.6,330.3 256.4,330.3 256.1,330.3 255.8,330.3 255.6,330.4 255.3,330.5 255.1,330.4 254.8,330.3 254.6,330.3 254.3,330.2 254.1,330.2 253.8,330.3 253.6,330.4 253.3,330.5 253.1,330.5 252.8,330.5 252.6,330.4 252.3,330.2 252.1,330.2 251.8,330.2 251.6,330.3 251.3,330.3 251.1,330.4 250.8,330.5 250.6,330.6 250.3,330.8 250.1,330.7 249.8,330.6 249.6,330.4 249.3,330.6 249.1,330.7 248.8,330.6 248.6,330.4 248.3,330.4 248.1,330.5 247.8,330.6 247.6,330.5 247.3,330.3 247.1,330.3 246.8,330.3 246.6,330.4 246.3,330.5 246.1,330.6 245.8,330.6 245.6,330.6 245.3,330.6 245.1,330.7 244.8,330.8 244.6,330.8 244.3,330.7 244.1,330.7 243.8,330.6 243.6,330.6 243.3,330.6 243.1,330.7 242.8,330.8 242.6,330.7 242.3,330.7 242.1,330.8 241.8,330.9 241.6,331.1 241.3,331.1 241.1,331 240.8,331.1 240.6,331.1 240.3,331.1 240.1,331.1 239.8,331.1 239.6,331 239.3,330.9 239.1,330.7 238.8,330.8 238.6,336.2 238.3,336.2 238.1,336.2 237.8,336.2 237.6,336.2 237.3,336.2 237.1,336.2 236.8,336.2 236.6,336.2 236.3,336.2 236.1,331.9 235.8,333 235.6,332.9 235.3,332.9 235.1,332.5 234.8,332.3 234.6,332.3 234.3,333.1 234.1,333.8 233.8,333.3 233.6,332.6 233.3,332.1 233.1,332.4 232.8,332.5 232.6,333 232.3,333.7 232.1,334 231.8,333.8 231.6,333.4 231.3,333.4 231.1,333.4 230.8,333.5 230.6,333.6 230.3,333.8 230.1,333.7 229.8,333.5 229.6,333.3 229.3,333.6 229.1,334 228.8,334 228.6,333.6 228.3,333.1 228.1,332.9 227.8,332.9 227.6,333.1 227.3,339.4 227.1,339.4 226.8,339.4 226.6,339.4 226.3,339.4 226.1,339.4 225.8,334.2 225.6,334.3 225.3,334.4 225.1,334.4 224.8,334.1 224.6,333.7 224.3,333.8 224.1,334.3 223.8,334.5 223.6,334 223.3,333.4 223.1,333.5 222.8,333.9 222.6,334.3 222.3,334.5 222.1,334.6 221.8,334.5 221.6,334.3 221.3,334 221.1,333.7 220.8,333.6 220.6,333.8 220.3,334.3 220.1,334.6 219.8,334.5 219.6,334.2 219.3,334.1 219.1,334.2 218.8,334.4 218.6,334.7 218.3,334.3 218.1,333.6 217.8,334.1 217.6,334.1 217.3,334 217.1,333.7 216.8,333.8 216.6,334.2 216.3,334.3 216.1,334.5 215.8,334.2 215.6,333.9 215.3,334.1 215.1,334.6 214.8,334.9 214.6,334.6 214.3,334.7 214.1,334.4 213.8,334 213.6,333.8 213.3,334.4 213.1,338.2 212.8,338.2 212.6,338.2 212.3,338.2 212.1,338.2 211.8,334.5 211.6,334.3 211.3,334.6 211.1,335 210.8,335.1 210.6,335.1 210.3,335 210.1,335.3 209.8,335.1 209.6,334.7 209.3,334.2 209.1,333.7 208.8,334.2 208.6,334.8 208.3,335.3 208.1,335.2 207.8,335.2 207.6,335.1 207.3,334.8 207.1,334.8 206.8,342.2 206.6,342.2 206.3,342.2 206.1,342.2 205.8,342.2 205.6,342.2 205.3,334.5 205.1,334.5 204.8,334 204.6,333.9 204.3,333.9 204.1,334.1 203.8,334.4 203.6,334.4 203.3,334.3 203.1,334.2 202.8,334.3 202.6,334.4 202.3,334.5 202.1,334.4 201.8,334.4 201.6,334.2 201.3,334 201.1,333.8 200.8,333.9 200.6,334 200.3,334 200.1,334.5 199.8,334.9 199.6,335 199.3,335.1 199.1,335.1 198.8,334.9 198.6,334.6 198.3,334.3 198.1,334.9 197.8,335 197.6,334.4 197.3,334 197.1,333.8 196.8,343.2 196.6,343.2 196.3,343.2 196.1,343.2 195.8,343.2 195.6,343.2 195.3,334.5 195.1,334.6 194.8,334.6 194.6,334.6 194.3,334.6 194.1,334.7 193.8,335 193.6,334.8 193.3,334.8 193.1,334.9 192.8,335.4 192.6,335.6 192.3,335.5 192.1,335.3 191.8,344.2 191.6,344.2 191.3,344.2 191.1,344.2 190.8,344.2 190.6,337.1 190.3,345.2 190.1,345.2 189.8,345.2 189.6,345.2 189.3,345.2 189.1,345.2 188.8,339 188.6,339.8 188.3,340.1 188.1,340.1 187.8,340 187.6,340.3 187.3,341 187.1,341 186.8,341.5 186.6,342.2 186.3,350.2 186.1,350.2 185.8,350.2 185.6,350.2 185.3,350.2 185.1,350.2 184.8,343.6 184.6,344.2 184.3,345.1 184.1,345.1 183.8,345 183.6,344.9 183.3,345.2 183.1,345.7 182.8,346.2 182.6,346.8 182.3,347.2 182.1,347.9 181.8,364.4 181.6,364.4 181.3,364.4 181.1,364.4 180.8,364.4 180.6,364.4 180.3,364.4 180.1,355.4 179.8,356.8 179.6,358.2 179.3,359.1 179.1,358.6 178.8,358.4 178.6,358.2 178.3,358.1 178.1,358 177.8,357.9 177.6,357.9 177.3,357.9 177.1,358.4 176.8,358.9 176.6,359.4 176.3,359.2 176.1,358.8 175.8,358.5 175.6,358.6 175.3,358.7 175.1,358.9 174.8,358.7 174.6,358.3 174.3,358 174.1,358.3 173.8,358.5 173.6,358.4 173.3,358.2 173.1,358.2 172.8,358.4 172.6,358.4 172.3,358.7 172.1,358.6 171.8,358.8 171.6,359 171.3,358.6 171.1,358.3 170.8,358.1 170.6,358.2 170.3,358.2 170.1,358.5 169.8,358.6 169.6,358.7 169.3,358.7 169.1,359 168.8,359.2 168.6,359.4 168.3,359.5 168.1,360 167.8,359.9 167.6,359.4 167.3,359.1 167.1,358.8 166.8,358.7 166.6,358.6 166.3,358.7 166.1,358.8 165.8,358.9 165.6,358.9 165.3,359 165.1,359 164.8,359.1 164.6,359.3 164.3,359.4 164.1,359.5 163.8,359.5 163.6,359.6 163.3,359.8 163.1,359.8 162.8,359.8 162.6,359.9 162.3,360 162.1,360.1 161.8,360.2 161.6,360.2 161.3,360.2 161.1,360.1 160.8,359.8 160.6,359.6 160.3,359.8 160.1,359.7 159.8,359.5 159.6,359.4 159.3,359.5 159.1,359.5 158.8,359.6 158.6,359.6 158.3,359.5 158.1,359.4 157.8,359.8 157.6,360 157.3,360.1 157.1,360.3 156.8,360.5 156.6,360.6 156.3,360.4 156.1,360.6 155.8,360.4 155.6,359.9 155.3,359.5 155.1,359.3 154.8,359.6 154.6,359.8 154.3,360.2 154.1,360.5 153.8,360.8 153.6,361 153.3,360.8 153.1,360.6 152.8,360.6 152.6,360.6 152.3,360.5 152.1,360.4 151.8,360.8 151.6,361.2 151.3,361.6 151.1,361.6 150.8,361.5 150.6,361.5 150.3,361.6 150.1,361.6 149.8,361.3 149.6,361 149.3,360.9 149.1,360.8 148.8,360.7 148.6,361 148.3,361.6 148.1,361.8 147.8,361.4 147.6,361.1 147.3,360.5 147.1,360.3 146.8,360.6 146.6,360.9 146.3,361 146.1,360.7 145.8,360.5 145.6,360.4 145.3,360.4 145.1,360.4 144.8,360.4 144.6,360.5 144.3,360.7 144.1,360.8 143.8,360.7 143.6,361.1 143.3,361.3 143.1,361.2 142.8,361.4 142.6,361.8 142.3,362.2 142.1,362 141.8,361.8 141.6,361.5 141.3,361.1 141.1,360.9 140.8,360.6 140.6,360.7 140.3,361 140.1,361.3 139.8,361.5 139.6,361.6 139.3,361.8 139.1,362.2 138.8,362.6 138.6,362.5 138.3,362.1 138.1,361.8 137.8,361.7 137.6,362 137.3,362.1 137.1,361.8 136.8,361.5 136.6,361.2 136.3,361 136.1,361.2 135.8,361.5 135.6,361.7 135.3,361.6 135.1,361.9 134.8,361.8 134.6,362.2 134.3,362.2 134.1,362 133.8,362.2 133.6,362.2 133.3,362.2 133.1,366.4 132.8,366.4 132.6,366.4 132.3,366.4 132.1,366.4 131.8,366.4 131.6,366.4 131.3,363.2 131.1,363.5 130.8,363.2 130.6,362.6 130.3,362.1 130.1,361.8 129.8,362 129.6,362.3 129.3,362.7 129.1,363.3 128.8,363.1 128.6,363.5 128.3,363.9 128.1,363.5 127.8,363 127.6,362.9 127.3,363 127.1,362.5 126.8,361.9 126.6,361.3 126.3,361.2 126.1,361.4 125.8,361.6 125.6,361.9 125.3,362 125.1,362 124.8,362 124.6,361.9 124.3,362.4 124.1,362.4 123.8,363 123.6,363.2 123.3,362.8 123.1,362.6 122.8,362.5 122.6,362.5 122.3,362.7 122.1,363 121.8,363.2 121.6,363 121.3,362.9 121.1,362.8 120.8,362.6 120.6,362.8 120.3,363.1 120.1,363.6 119.8,364 119.6,364.1 119.3,363.9 119.1,363.7 118.8,363.8 118.6,363.3 118.3,363.1 118.1,362.5 117.8,362.4 117.6,362.7 117.3,362.7 117.1,362.6 116.8,362.7 116.6,362.5 116.3,362.2 116.1,361.8 115.8,361.4 115.6,361.9 115.3,362.6 115.1,362.8 114.8,363 114.6,363.1 114.3,362.9 114.1,362.7 113.8,362 113.6,362.1 113.3,362.6 113.1,363 112.8,363.3 112.6,363.8 112.3,363.8 112.1,363.4 111.8,362.9 111.6,362.6 111.3,362.9 111.1,363.1 110.8,362.7 110.6,362.9 110.3,363.2 110.1,363.2 109.8,363.4 109.6,363.8 109.3,363.8 109.1,363.2 108.8,362.6 108.6,361.9 108.3,361.5 108.1,362 107.8,362.3 107.6,362.6 107.3,363 107.1,363.2 106.8,363.1 106.6,362.9 106.3,362.6 106.1,362.2 105.8,362.4 105.6,362.8 105.3,363 105.1,363.2 104.8,363.3 104.6,363.9 104.3,364.3 104.1,364.5 103.8,364.6 103.6,364.4 103.3,364.2 103.1,363.6 102.8,363 102.6,362.9 102.3,363 102.1,363.2 101.8,363.4 101.6,363.6 101.3,363.6 101.1,364 100.8,364.4 100.6,364.3 100.3,364.6 100.1,364.2 99.8,363.6 99.6,363 99.3,362.4 99.1,362.2 98.8,362.5 98.6,362.9 98.3,363.1 98.1,363.3 97.8,363.5 97.6,363.6 97.3,363.9 97.1,363.7 96.8,363.4 96.6,363.4 96.3,363.6 96.1,363.9 95.8,363.8 95.6,363.8 95.3,363.7 95.1,363.6 94.8,363.4 94.6,362.8 94.3,362.7 94.1,362.5 93.8,362.5 93.6,362.9 93.3,363.1 93.1,363.3 92.8,363.5 92.6,363.5 92.3,365.8 92.1,365.8 91.8,365.8 91.6,365.8 91.3,365.8 91.1,365.8 90.8,363.7 90.6,364 90.3,364.6 90.1,365.1 89.8,364.6 89.6,364.2 89.3,363.8 89.1,363.6 88.8,363.7 88.6,363.7 88.3,363.8 88.1,363.5 87.8,363.5 87.6,363.6 87.3,363.7 87.1,363.8 86.8,363.8 86.6,364.1 86.3,364.3 86.1,364.4 85.8,364.5 85.6,364.7 85.3,365 85.1,365 84.8,364.9 84.6,364.8 84.3,364.7 84.1,364.6 83.8,363.9 83.6,363.2 83.3,362.6 83.1,362.5 82.8,362.8 82.6,363.2 82.3,363.5 82.1,363.8 81.8,364.1 81.6,364.1 81.3,364.4 81.1,364.7 80.8,364.8 80.6,364.9 80.3,364.9 80.1,364.7 79.8,364.4 79.6,364.1 79.3,363.9 79.1,363.8 78.8,363.8 78.6,363.6 78.3,364.2 78.1,364.8 77.8,364.8 77.6,364.8 77.3,364.9 77.1,365.2 76.8,365.4 76.6,365.7 76.3,366 76.1,365.5 75.8,365.2 75.6,365.7 75.3,365.7 75.1,365.7 74.8,366 74.6,366.4 74.3,365.6 74.1,365.1 73.8,366 73.6,365.5 73.3,365.9 73.1,366.3 72.8,367.2 72.6,368.1 72.3,368.4 72.1,368.8" fill="#d3d3d3"/>
<polyline points="169.1,356.7 169.3,356.3 169.6,358 169.8,357.1 170.1,356.6 170.3,357.3 170.6,356.8 170.8,357.2 171.1,357.7 171.3,356.6 171.6,357.1 171.8,357.1 172.1,357.5 172.3,357.1 172.6,356.7 172.8,356.2 173.1,356.8 173.3,355.9 173.6,357 173.8,356.6 174.1,356.9 174.3,356.2 174.6,355.9 174.8,355.8 175.1,357.2 175.3,356.3 175.6,356.2 175.8,355.1 176.1,356.3 176.3,353.9 176.6,357.3 176.8,356.1 177.1,356.3 177.3,355.3 177.6,355.5 177.8,356.6 178.1,356 178.3,356.5 178.6,357 178.8,356.6 179.1,353.5 179.3,354.7 179.6,353.6 179.8,352.6 180.1,329.1 180.3,329.1 180.6,349 180.8,363 181.1,363 181.3,346.9 181.6,356.2 181.8,356.2 182.1,342.3 182.3,344.3 182.6,342.9 182.8,341.2 183.1,344.1 183.3,344.3 183.6,344.4 183.8,316.4 184.1,316.4 184.3,341.2 184.6,347.2 184.8,342 185.1,338.7 185.3,340.2 185.6,349.8 185.8,349.8 186.1,342 186.3,338.3 186.6,340.2 186.8,334.5 187.1,334.7 187.3,334.2 187.6,337.7 187.8,337.9 188.1,333.8 188.3,334.6 188.6,330.6 188.8,340.7 189.1,335.5 189.3,335.6 189.6,344.4 189.8,344.4 190.1,334.2 190.3,331.9 190.6,332.9 190.8,337.1 191.1,334.5 191.3,343.8 191.6,331.3 191.8,333.5 192.1,333.6 192.3,332.3 192.6,334.8 192.8,332.2 193.1,332.8 193.3,334.3 193.6,333.3 193.8,334.6 194.1,332.5 194.3,332.2 194.6,333.5 194.8,333.2 195.1,334.5 195.3,326.8 195.6,332.8 195.8,342.8 196.1,342.8 196.3,331.4 196.6,332.6 196.8,332.3 197.1,334.2 197.3,332.2 197.6,334 197.8,331.3 198.1,332.6 198.3,333.9 198.6,332.4 198.8,333.9 199.1,330.5 199.3,332.7 199.6,332.8 199.8,332.5 200.1,331.1 200.3,333.3 200.6,330.3 200.8,333.5 201.1,332.8 201.3,333.5 201.6,332.3 201.8,331.5 202.1,332.1 202.3,332.1 202.6,333.1 202.8,332.2 203.1,332.9 203.3,332.9 203.6,333.8 203.8,330.7 204.1,332.1 204.3,333.1 204.6,333.1 204.8,332 205.1,332.3 205.3,332.4 205.6,332.6 205.8,332 206.1,331.9 206.3,341.3 206.6,308.5 206.8,308.5 207.1,308.5 207.3,333.3 207.6,316.2 207.8,316.2 208.1,334.5 208.3,301.4 208.6,301.4 208.8,301.4 209.1,331.4 209.3,332.7 209.6,249.7 209.8,249.7 210.1,249.7 210.3,331.6 210.6,331.7 210.8,332.8 211.1,332.3 211.3,332.9 211.6,333.5 211.8,331.4 212.1,331.8 212.3,332.5 212.6,337.6 212.8,332.1 213.1,332 213.3,332.8 213.6,334.2 213.8,331.9 214.1,332.1 214.3,332.4 214.6,333 214.8,334.2 215.1,331.3 215.3,330.9 215.6,332.5 215.8,332.8 216.1,330.4 216.3,331.8 216.6,333.1 216.8,331.9 217.1,332.7 217.3,332.4 217.6,332.8 217.8,332.6 218.1,332.5 218.3,333.3 218.6,331.8 218.8,332.3 219.1,333.2 219.3,331.7 219.6,331.9 219.8,331.6 220.1,331.4 220.3,333.9 220.6,332.6 220.8,333.8 221.1,332.8 221.3,332.2 221.6,331.9 221.8,332.4 222.1,332.1 222.3,332.9 222.6,331.4 222.8,332.2 223.1,332.5 223.3,331.9 223.6,331.9 223.8,332.5 224.1,332.5 224.3,331.9 224.6,332 224.8,331.5 225.1,332.5 225.3,331.9 225.6,330.6 225.8,321.7 226.1,332.5 226.3,338.5 226.6,331.2 226.8,332.5 227.1,332.4 227.3,332.4 227.6,333.2 227.8,331.6 228.1,332.4 228.3,331.6 228.6,332.6 228.8,332.7 229.1,332.1 229.3,332.3 229.6,330.9 229.8,332.1 230.1,330.5 230.3,333.3 230.6,332.4 230.8,330.1 231.1,329.1 231.3,332.4 231.6,330.6 231.8,331.7 232.1,330.1 232.3,331.2 232.6,330.6 232.8,331.6 233.1,330.8 233.3,332.3" fill="none" stroke="#000" stroke-width="1.7" stroke-linejoin="round" />
<polyline points="169.1,356.7 169.3,356.3 169.6,358 169.8,357.1 170.1,356.6 170.3,357.3 170.6,356.8 170.8,357.2 171.1,357.7 171.3,356.6 171.6,357.1 171.8,357.1 172.1,357.5 172.3,357.1 172.6,356.7 172.8,356.2 173.1,356.8 173.3,355.9 173.6,357 173.8,356.6 174.1,356.9 174.3,356.2 174.6,355.9 174.8,355.8 175.1,357.2 175.3,356.3 175.6,356.2 175.8,355.1 176.1,356.3 176.3,353.9 176.6,357.3 176.8,356.1 177.1,356.3 177.3,355.3 177.6,355.5 177.8,356.6 178.1,356 178.3,356.5 178.6,357 178.8,356.6 179.1,353.5 179.3,354.7 179.6,353.6 179.8,352.6 180.1,329.1 180.3,329.1 180.6,349 180.8,363 181.1,363 181.3,346.9 181.6,356.2 181.8,356.2 182.1,342.3 182.3,344.3 182.6,342.9 182.8,341.2 183.1,344.1 183.3,344.3 183.6,344.4 183.8,316.4 184.1,316.4 184.3,341.2 184.6,347.2 184.8,342 185.1,338.7 185.3,340.2 185.6,349.8 185.8,349.8 186.1,342 186.3,338.3 186.6,340.2 186.8,334.5 187.1,334.7 187.3,334.2 187.6,337.7 187.8,337.9 188.1,333.8 188.3,334.6 188.6,330.6 188.8,340.7 189.1,335.5 189.3,335.6 189.6,344.4 189.8,344.4 190.1,334.2 190.3,331.9 190.6,332.9 190.8,337.1 191.1,334.5 191.3,343.8 191.6,331.3 191.8,333.5 192.1,333.6 192.3,332.3 192.6,334.8 192.8,332.2 193.1,332.8 193.3,334.3 193.6,333.3 193.8,334.6 194.1,332.5 194.3,332.2 194.6,333.5 194.8,333.2 195.1,334.5 195.3,326.8 195.6,332.8 195.8,342.8 196.1,342.8 196.3,331.4 196.6,332.6 196.8,332.3 197.1,334.2 197.3,332.2 197.6,334 197.8,331.3 198.1,332.6 198.3,333.9 198.6,332.4 198.8,333.9 199.1,330.5 199.3,332.7 199.6,332.8 199.8,332.5 200.1,331.1 200.3,333.3 200.6,330.3 200.8,333.5 201.1,332.8 201.3,333.5 201.6,332.3 201.8,331.5 202.1,332.1 202.3,332.1 202.6,333.1 202.8,332.2 203.1,332.9 203.3,332.9 203.6,333.8 203.8,330.7 204.1,332.1 204.3,333.1 204.6,333.1 204.8,332 205.1,332.3 205.3,332.4 205.6,332.6 205.8,332 206.1,331.9 206.3,341.3 206.6,308.5 206.8,308.5 207.1,308.5 207.3,333.3 207.6,316.2 207.8,316.2 208.1,334.5 208.3,301.4 208.6,301.4 208.8,301.4 209.1,331.4 209.3,332.7 209.6,249.7 209.8,249.7 210.1,249.7 210.3,331.6 210.6,331.7 210.8,332.8 211.1,332.3 211.3,332.9 211.6,333.5 211.8,331.4 212.1,331.8 212.3,332.5 212.6,337.6 212.8,332.1 213.1,332 213.3,332.8 213.6,334.2 213.8,331.9 214.1,332.1 214.3,332.4 214.6,333 214.8,334.2 215.1,331.3 215.3,330.9 215.6,332.5 215.8,332.8 216.1,330.4 216.3,331.8 216.6,333.1 216.8,331.9 217.1,332.7 217.3,332.4 217.6,332.8 217.8,332.6 218.1,332.5 218.3,333.3 218.6,331.8 218.8,332.3 219.1,333.2 219.3,331.7 219.6,331.9 219.8,331.6 220.1,331.4 220.3,333.9 220.6,332.6 220.8,333.8 221.1,332.8 221.3,332.2 221.6,331.9 221.8,332.4 222.1,332.1 222.3,332.9 222.6,331.4 222.8,332.2 223.1,332.5 223.3,331.9 223.6,331.9 223.8,332.5 224.1,332.5 224.3,331.9 224.6,332 224.8,331.5 225.1,332.5 225.3,331.9 225.6,330.6 225.8,321.7 226.1,332.5 226.3,338.5 226.6,331.2 226.8,332.5 227.1,332.4 227.3,332.4 227.6,333.2 227.8,331.6 228.1,332.4 228.3,331.6 228.6,332.6 228.8,332.7 229.1,332.1 229.3,332.3 229.6,330.9 229.8,332.1 230.1,330.5 230.3,333.3 230.6,332.4 230.8,330.1 231.1,329.1 231.3,332.4 231.6,330.6 231.8,331.7 232.1,330.1 232.3,331.2 232.6,330.6 232.8,331.6 233.1,330.8 233.3,332.3" fill="none" stroke="#b671aa" stroke-width="1.9" stroke-linejoin="round" />
<g fill="#cc86c3"><circle cx="82.6" cy="361.8" r="1.25"/><circle cx="95.8" cy="361.1" r="1.25"/><circle cx="107.1" cy="360.8" r="1.25"/><circle cx="122.7" cy="360.6" r="1.25"/><circle cx="131.7" cy="360.6" r="1.25"/><circle cx="139.6" cy="361" r="1.25"/><circle cx="150.5" cy="359.4" r="1.25"/><circle cx="151.8" cy="359.2" r="1.25"/><circle cx="158.5" cy="358.4" r="1.25"/><circle cx="160.6" cy="358.1" r="1.25"/><circle cx="166.5" cy="357.2" r="1.25"/><circle cx="179.3" cy="351.3" r="1.25"/><circle cx="185.9" cy="341.3" r="1.25"/><circle cx="191.7" cy="333.8" r="1.25"/><circle cx="209.9" cy="325.8" r="1.25"/><circle cx="219.6" cy="330.3" r="1.25"/><circle cx="227.9" cy="331.3" r="1.25"/><circle cx="239" cy="330.1" r="1.25"/><circle cx="244.7" cy="328.8" r="1.25"/><circle cx="246.7" cy="329.3" r="1.25"/><circle cx="258.5" cy="328.1" r="1.25"/><circle cx="263.5" cy="328.3" r="1.25"/><circle cx="265.5" cy="327" r="1.25"/><circle cx="271" cy="325.8" r="1.25"/><circle cx="275.2" cy="324.2" r="1.25"/></g>
<g fill="#5c5c5c" fill-opacity="0.7" stroke="#262626" stroke-opacity="0.8" stroke-width="0.7"><circle cx="82.6" cy="361.7" r="1.9"/><circle cx="95.8" cy="357.6" r="1.9"/><circle cx="107.1" cy="361.2" r="1.9"/><circle cx="122.7" cy="361.2" r="1.9"/><circle cx="131.7" cy="358.2" r="1.9"/><circle cx="139.6" cy="357.6" r="1.9"/><circle cx="150.5" cy="357.3" r="1.9"/><circle cx="151.8" cy="357.3" r="1.9"/><circle cx="158.5" cy="356.2" r="1.9"/><circle cx="160.6" cy="358.2" r="1.9"/><circle cx="166.6" cy="355.5" r="1.9"/><circle cx="179.1" cy="347.4" r="1.9"/><circle cx="185.8" cy="337.9" r="1.9"/><circle cx="191.7" cy="332.7" r="1.9"/><circle cx="209.9" cy="327" r="1.9"/><circle cx="219.6" cy="330.6" r="1.9"/><circle cx="227.7" cy="331.6" r="1.9"/><circle cx="239" cy="325.6" r="1.9"/><circle cx="244.7" cy="329.6" r="1.9"/><circle cx="246.7" cy="330.3" r="1.9"/><circle cx="258.5" cy="328" r="1.9"/><circle cx="263.5" cy="330.3" r="1.9"/><circle cx="265.5" cy="327" r="1.9"/><circle cx="271" cy="324.7" r="1.9"/><circle cx="275.2" cy="321.1" r="1.9"/></g>
</g>
<path d="M67.2 376h4.9M67.2 365.4h4.9M67.2 357.2h4.9M67.2 350.4h4.9M67.2 344.8h4.9M67.2 339.8h4.9M67.2 335.5h4.9M64.9 331.6h7.2M67.2 306.1h4.9M67.2 291.1h4.9M67.2 280.5h4.9M67.2 272.3h4.9M67.2 265.5h4.9M67.2 259.9h4.9M67.2 254.9h4.9M67.2 250.6h4.9M64.9 246.7h7.2M67.2 221.2h4.9M67.2 206.2h4.9M95.8 376v4.9M118.2 376v7.2M187.5 376v4.9M228.1 376v4.9M256.9 376v4.9M279.2 376v4.9" stroke="#000" stroke-width="1.45" fill="none"/>
<text x="23" y="337.1" font-size="16.0" text-anchor="start">10<tspan font-size="11.2" dy="-6.2" dx="0.7">−6</tspan></text>
<text x="23" y="252.2" font-size="16.0" text-anchor="start">10<tspan font-size="11.2" dy="-6.2" dx="0.7">−5</tspan></text>
<text x="95.8" y="396.6" font-size="16.0" text-anchor="middle" >0.8</text>
<text x="118.2" y="398.8" font-size="16.0" text-anchor="middle" >1</text>
<text x="187.5" y="396.6" font-size="16.0" text-anchor="middle" >2</text>
<text x="228.1" y="396.6" font-size="16.0" text-anchor="middle" >3</text>
<text x="256.9" y="396.6" font-size="16.0" text-anchor="middle" >4</text>
<text x="279.2" y="396.6" font-size="16.0" text-anchor="middle" >5</text>
<text transform="translate(15.1 291.1) rotate(-90)" font-size="18.0" text-anchor="middle">Flux density [Jy]</text>
<text x="121.5" y="419.5" font-size="18.0"><tspan font-style="italic">λ</tspan><tspan font-size="12.6" dy="3.1" dx="-0.7">observed</tspan><tspan dy="-3.1" dx="-0.2"> [µm]</tspan></text>
<path d="M85.7 247.6h33.5" stroke="#000" stroke-width="2"/>
<path d="M85.7 270.9h33.5" stroke="#b671aa" stroke-width="2"/>
<text x="131.9" y="252.8" font-size="15.899999999999999" text-anchor="start" >Truth</text>
<text x="131.5" y="276.3" font-size="15.899999999999999" text-anchor="start" >Best-fit</text>
<rect x="72.1" y="206.2" width="216.8" height="169.8" fill="none" stroke="#000" stroke-width="1.6"/>
<text x="80.6" y="225.5" font-size="15.7" text-anchor="start" >Photometry + G235M</text>
<g clip-path="url(#c11)">
<path d="M375.4 364.3H390.1V366.4H375.4ZM390.1 306.5H407.5V327H390.1ZM407.5 274.1H424.8V325H407.5ZM424.8 290.9H442.2V325.6H424.8ZM442.2 345.6H459.5V369.7H442.2ZM459.5 366.2H476.9V370.7H459.5ZM476.9 369.6H494.2V371H476.9ZM494.2 369.8H511.6V371H494.2ZM511.6 369.8H528.9V371H511.6ZM528.9 369.8H546.2V371H528.9ZM546.2 369.8H563.6V371H546.2ZM563.6 369.8H580.9V371H563.6ZM580.9 369.8H592.2V371H580.9Z" fill="#efe1ed"/>
<path d="M375.4 365.3H390.1V315.9H407.5V303.5H424.8V308.8H442.2V360.3H459.5V369.7H476.9V370.7H494.2V370.8H511.6V370.8H528.9V370.8H546.2V370.8H563.6V370.8H580.9V370.8H592.2" fill="none" stroke="#b671aa" stroke-width="2.05" stroke-linejoin="miter"/>
<path d="M375.4 367.8H390.1V304.8H407.5V369.8H424.8V324.9H442.2V369.8H459.5V332.4H476.9V369.8H494.2V336.8H511.6V369.8H528.9V340.3H546.2V369.8H563.6V342.4H580.9V369.8H592.2" fill="none" stroke="#6b6b6b" stroke-width="2.05" stroke-dasharray="2.05 3.38"/>
</g>
<path d="M368.4 371.2h7M368.4 319.7h7M368.4 268.3h7M368.4 216.8h7M375.4 376v7M462.1 376v7M548.8 376v7" stroke="#000" stroke-width="1.45" fill="none"/>
<text x="364.7" y="377.1" font-size="16.0" text-anchor="end" >0</text>
<text x="364.7" y="325.6" font-size="16.0" text-anchor="end" >50</text>
<text x="364.7" y="274.2" font-size="16.0" text-anchor="end" >100</text>
<text x="364.7" y="222.7" font-size="16.0" text-anchor="end" >150</text>
<text x="375.4" y="398.7" font-size="16.0" text-anchor="middle" >0</text>
<text x="462.1" y="398.7" font-size="16.0" text-anchor="middle" >200</text>
<text x="548.8" y="398.7" font-size="16.0" text-anchor="middle" >400</text>
<text transform="translate(325 291.1) rotate(-90)" font-size="18.0" text-anchor="middle">SFR [M<tspan font-size="10.8" dy="2.6" dx="3.2">⊙</tspan><tspan dy="-2.6" dx="0.7"> yr</tspan><tspan font-size="12.6" dy="-7">−1</tspan><tspan dy="7">]</tspan></text>
<text x="483.8" y="419.5" font-size="18.0" text-anchor="middle" >Lookback time [Myr]</text>
<rect x="375.4" y="206.2" width="216.8" height="169.8" fill="none" stroke="#000" stroke-width="1.6"/>
<text x="383.9" y="225.5" font-size="15.7" text-anchor="start" >Bursty continuity prior</text>
<g clip-path="url(#c12)">
<polygon points="678.8,362.2 679,361.9 679.3,361.6 679.5,361.3 679.8,361 680,360.6 680.3,359.6 680.5,358.7 680.8,359.4 681,359.7 681.3,359.4 681.5,359.8 681.8,360.1 682,360.5 682.3,360.1 682.5,359.9 682.8,359.7 683,359.8 683.3,360.4 683.5,361 683.8,360.8 684,360.1 684.3,359.9 684.5,360.3 684.8,359.9 685,359.9 685.3,359.7 685.5,359.8 685.8,360 686,360 686.3,359.9 686.5,359.7 686.8,360.1 687,360.6 687.3,360.5 687.5,360.3 687.8,360.2 688,360.4 688.3,360.6 688.5,360.4 688.8,360.2 689,359.9 689.3,359.3 689.5,358.8 689.8,358.8 690,358.9 690.3,359 690.5,359.4 690.8,359.8 691,360.4 691.3,361 691.5,361.1 691.8,360.9 692,360.8 692.3,361.1 692.5,360.6 692.8,360.6 693,360.6 693.3,360.6 693.5,360.3 693.8,359.9 694,359.7 694.3,359.6 694.5,359.8 694.8,359.3 695,359.1 695.3,359.7 695.5,360.1 695.8,360 696,360.1 696.3,360.2 696.5,360.5 696.8,360.5 697,360.5 697.3,360.3 697.5,360.2 697.8,360.1 698,360.1 698.3,359.9 698.5,359.7 698.8,359.6 699,359.6 699.3,359.6 699.5,359.9 699.8,359.6 700,359.5 700.3,359.4 700.5,359 700.8,358.6 701,358.6 701.3,359.3 701.5,359.4 701.8,359.6 702,360 702.3,360.2 702.5,360.2 702.8,360.1 703,360.1 703.3,360 703.5,360 703.8,360 704,360 704.3,360 704.5,359.9 704.8,359.7 705,359.3 705.3,359 705.5,359 705.8,358.7 706,358.9 706.3,359.2 706.5,359.7 706.8,360.5 707,360.9 707.3,360.7 707.5,360.2 707.8,360 708,360 708.3,359.9 708.5,359.8 708.8,359.7 709,359.4 709.3,359.1 709.5,359.3 709.8,360 710,360 710.3,360.4 710.5,360.7 710.8,360.6 711,360.3 711.3,360 711.5,359.6 711.8,359.3 712,359.1 712.3,359 712.5,358.9 712.8,358.7 713,358.6 713.3,358.7 713.5,358.9 713.8,358.9 714,358.8 714.3,358.6 714.5,358.6 714.8,358.1 715,357.9 715.3,357.8 715.5,358.2 715.8,358.8 716,359.4 716.3,359.9 716.5,360 716.8,359.4 717,358.9 717.3,358.6 717.5,358.9 717.8,359.2 718,359.1 718.3,359.1 718.5,359.1 718.8,359.1 719,359.2 719.3,359.8 719.5,359.9 719.8,359.5 720,359 720.3,358.5 720.5,358.4 720.8,358.6 721,359.2 721.3,359.5 721.5,359.5 721.8,359 722,358.5 722.3,358.3 722.5,358 722.8,358.3 723,358.6 723.3,358.8 723.5,358.9 723.8,358.7 724,358.5 724.3,358.4 724.5,358.5 724.8,359 725,359.5 725.3,359.9 725.5,360.2 725.8,360.3 726,360.3 726.3,360.1 726.5,359.9 726.8,359.3 727,359.3 727.3,359.3 727.5,359.1 727.8,359 728,358.9 728.3,359.4 728.5,359.7 728.8,359.3 729,358.8 729.3,358.6 729.5,358.8 729.8,359.2 730,359.1 730.3,359.1 730.5,358.9 730.8,358.6 731,358.4 731.3,358.6 731.5,358.1 731.8,358 732,358 732.3,357.9 732.5,357.8 732.8,357.7 733,357.6 733.3,357.6 733.5,358.1 733.8,358.6 734,359 734.3,359.3 734.5,359.5 734.8,359.8 735,360 735.3,359.5 735.5,358.8 735.8,358.1 736,358.1 736.3,358.2 736.5,358.2 736.8,358.3 737,358.7 737.3,359.1 737.5,359.5 737.8,359.9 738,359.5 738.3,359.2 738.5,358.9 738.8,358.7 739,358.8 739.3,358.7 739.5,358.6 739.8,358.5 740,358.5 740.3,358.7 740.5,358.4 740.8,358.4 741,358.4 741.3,358.3 741.5,358 741.8,357.8 742,358.1 742.3,358 742.5,357.7 742.8,357.7 743,357.6 743.3,357.8 743.5,358 743.8,358.2 744,358.2 744.3,358 744.5,357.9 744.8,357.9 745,358.2 745.3,358.6 745.5,358.8 745.8,358.6 746,358.3 746.3,358.1 746.5,357.4 746.8,357.3 747,357.3 747.3,356.9 747.5,357.1 747.8,357.4 748,357.6 748.3,357.6 748.5,358.1 748.8,358.6 749,358.5 749.3,358.4 749.5,357.9 749.8,357.7 750,357.5 750.3,357.3 750.5,357.3 750.8,357.1 751,357.1 751.3,356.8 751.5,356.7 751.8,356.6 752,356.7 752.3,357 752.5,356.9 752.8,356.9 753,356.9 753.3,356.9 753.5,356.9 753.8,356.9 754,357 754.3,357.3 754.5,357.8 754.8,358.3 755,357.8 755.3,357.4 755.5,357.1 755.8,357.2 756,357.3 756.3,357.4 756.5,357.1 756.8,356.8 757,357.4 757.3,357.7 757.5,357.8 757.8,357.7 758,357.5 758.3,357.4 758.5,357.2 758.8,357 759,356.9 759.3,356.9 759.5,356.9 759.8,356.9 760,357.1 760.3,357.2 760.5,357 760.8,356.6 761,356.3 761.3,356.2 761.5,356.1 761.8,355.8 762,355.9 762.3,356.3 762.5,356.8 762.8,357 763,356.9 763.3,356.9 763.5,356.9 763.8,356.8 764,356.5 764.3,356.5 764.5,356.4 764.8,356.1 765,355.9 765.3,355.9 765.5,356 765.8,356 766,356.1 766.3,355.8 766.5,355.8 766.8,355.9 767,355.8 767.3,356 767.5,356.2 767.8,356.5 768,356.7 768.3,356.8 768.5,356.8 768.8,356.7 769,356.5 769.3,356.3 769.5,356.2 769.8,356.1 770,355.9 770.3,355.6 770.5,355.4 770.8,355.7 771,356.1 771.3,355.7 771.5,355.8 771.8,355.5 772,355.6 772.3,355.5 772.5,355.5 772.8,355.2 773,355 773.3,355 773.5,355.2 773.8,355.2 774,355.4 774.3,355.9 774.5,356.1 774.8,355.5 775,355.5 775.3,355.6 775.5,355.4 775.8,355.1 776,354.9 776.3,354.9 776.5,355 776.8,354.9 777,354.7 777.3,354.6 777.5,354.5 777.8,354.7 778,355.1 778.3,355.1 778.5,354.9 778.8,354.7 779,354.7 779.3,354.7 779.5,353.6 779.8,353.6 780,354.3 780.3,354.9 780.5,355.1 780.8,354.7 781,354.6 781.3,354.7 781.5,355.1 781.8,355.4 782,355.2 782.3,354.8 782.5,354.4 782.8,354.6 783,354.9 783.3,355.2 783.5,355 783.8,354.3 784,353.9 784.3,353.9 784.5,353.9 784.8,354.1 785,354.3 785.3,354.2 785.5,354.1 785.8,354.3 786,327.2 786.3,327.2 786.5,327.2 786.8,327.2 787,327.2 787.3,327.2 787.5,327.2 787.8,345.3 788,344.6 788.3,343.8 788.5,342.7 788.8,341.7 789,340.8 789.3,340.2 789.5,339.5 789.8,314.3 790,314.3 790.3,314.3 790.5,314.3 790.8,314.3 791,314.3 791.3,314.3 791.5,336.3 791.8,335.9 792,335.8 792.3,335.4 792.5,335.2 792.8,335.1 793,335.4 793.3,334.9 793.5,334.5 793.8,334.2 794,334 794.3,333.9 794.5,333.9 794.8,330.2 795,330.2 795.3,330.2 795.5,330.2 795.8,330.2 796,330.2 796.3,332.6 796.5,332.4 796.8,332.4 797,332.3 797.3,332.2 797.5,332.1 797.8,331.9 798,331.6 798.3,331.4 798.5,331.2 798.8,331.1 799,331.1 799.3,330.9 799.5,330.8 799.8,330.7 800,330.5 800.3,330.6 800.5,330.7 800.8,330.7 801,330.5 801.3,326.2 801.5,326.2 801.8,326.2 802,326.2 802.3,326.2 802.5,326.2 802.8,326.2 803,330.1 803.3,330 803.5,330.1 803.8,329.8 804,329.8 804.3,330.2 804.5,330.9 804.8,330.8 805,330.4 805.3,330.1 805.5,330.5 805.8,330.7 806,330.3 806.3,330.5 806.5,330.4 806.8,330.3 807,330.2 807.3,330 807.5,329.9 807.8,329.8 808,330.1 808.3,330.2 808.5,330.4 808.8,330.2 809,330.1 809.3,330.3 809.5,330.3 809.8,330.1 810,330 810.3,330 810.5,330.3 810.8,330.2 811,329.9 811.3,329.8 811.5,329.9 811.8,330.1 812,329.8 812.3,329.5 812.5,329.3 812.8,329.6 813,301.2 813.3,301.2 813.5,301.2 813.8,301.2 814,301.2 814.3,301.2 814.5,275.7 814.8,275.7 815,275.7 815.3,275.7 815.5,275.7 815.8,239.8 816,239.8 816.3,239.8 816.5,239.8 816.8,239.8 817,239.8 817.3,239.8 817.5,286.2 817.8,286.2 818,311.2 818.3,311.2 818.5,311.2 818.8,330.2 819,330.5 819.3,330.8 819.5,331.2 819.8,331 820,330.2 820.3,329.4 820.5,329.6 820.8,330 821,330.3 821.3,330.7 821.5,330.8 821.8,330.7 822,330.4 822.3,330 822.5,330.3 822.8,330.5 823,330.4 823.3,330 823.5,329.7 823.8,329.8 824,329.9 824.3,329.8 824.5,329.6 824.8,329.6 825,329.7 825.3,329.9 825.5,330.2 825.8,330.3 826,330.1 826.3,330 826.5,330.4 826.8,330.5 827,329.9 827.3,329.7 827.5,329.8 827.8,329.9 828,329.9 828.3,330 828.5,330.3 828.8,330.5 829,330.4 829.3,330.3 829.5,330 829.8,329.7 830,329.6 830.3,329.8 830.5,330 830.8,330.2 831,329.7 831.3,329.3 831.5,329.4 831.8,329.5 832,319.7 832.3,319.7 832.5,319.7 832.8,319.7 833,319.7 833.3,319.7 833.5,330.2 833.8,329.9 834,329.5 834.3,329.2 834.5,329.1 834.8,329.1 835,329.2 835.3,329.3 835.5,329.8 835.8,330 836,329.6 836.3,329.5 836.5,329.8 836.8,329.9 837,329.9 837.3,329.6 837.5,329.3 837.8,329.1 838,329.1 838.3,329 838.5,329.2 838.8,329.5 839,329.4 839.3,328.9 839.5,328.2 839.8,327.9 840,327.8 840.3,328.3 840.5,329.3 840.8,329.8 841,328.9 841.3,328 841.5,328.1 841.8,328.7 842,328.9 842.3,323.7 842.5,323.7 842.8,247.6 843,247.6 843.3,247.6 843.5,247.6 843.8,247.6 844,247.6 844.3,247.6 844.5,323.7 844.8,323.7 845,323.7 845.3,323.7 845.5,323.7 845.8,326.2 846,326.2 846.3,326.2 846.5,326.2 846.8,329.3 847,329.5 847.3,329.4 847.5,329.4 847.8,329.3 848,329.3 848.3,329.3 848.5,329.2 848.8,329.1 849,329 849.3,329 849.5,329.1 849.8,328.9 850,328.8 850.3,328.8 850.5,328.9 850.8,328.9 851,328.9 851.3,317 851.5,317 851.8,317 852,317 852.3,317 852.5,317 852.8,328.8 853,328.7 853.3,328.7 853.5,328.7 853.8,328.7 854,328.7 854.3,328.7 854.5,328.6 854.8,328.6 855,328.6 855.3,328.7 855.5,328.7 855.8,328.8 856,328.8 856.3,328.8 856.5,328.9 856.8,329 857,329.1 857.3,328.9 857.5,328.7 857.8,328.6 858,328.5 858.3,328.5 858.5,328.5 858.8,328.5 859,328.5 859.3,328.7 859.5,328.7 859.8,328.7 860,328.7 860.3,328.7 860.5,328.6 860.8,328.6 861,328.6 861.3,328.6 861.5,328.7 861.8,328.7 862,328.7 862.3,328.6 862.5,328.6 862.8,328.6 863,328.5 863.3,328.5 863.5,328.7 863.8,328.8 864,328.6 864.3,328.6 864.5,328.6 864.8,328.7 865,328.7 865.3,328.8 865.5,328.8 865.8,328.8 866,328.8 866.3,328.7 866.5,328.6 866.8,328.5 867,328.4 867.3,328.4 867.5,328.5 867.8,328.6 868,328.7 868.3,328.6 868.5,328.6 868.8,328.6 869,328.3 869.3,328.2 869.5,328.3 869.8,328.6 870,328.9 870.3,328.8 870.5,328.6 870.8,328.5 871,328.7 871.3,328.7 871.5,328.6 871.8,328.4 872,328.4 872.3,328.5 872.5,328.5 872.8,328.1 873,327.8 873.3,327.6 873.5,327.6 873.8,327.3 874,327.1 874.3,326.8 874.5,326.7 874.8,326.7 875,326.6 875.3,323.2 875.5,323.2 875.8,323.2 876,323.2 876.3,323.2 876.5,325.7 876.8,325.6 877,325.4 877.3,325.2 877.5,325.1 877.8,325.1 878,325.1 878.3,325 878.5,324.8 878.8,324.9 879,324.7 879.3,324.7 879.5,324.9 879.8,324.9 880,319 880.3,319 880.5,319 880.8,319 881,319 881.3,319 881.5,325.1 881.8,325 882,324.7 882.3,324.5 882.5,324.7 882.8,324.8 883,325 883.3,325.1 883.5,325.2 883.8,325.1 884,324.9 884.3,324.8 884.5,324.7 884.8,324.7 885,324.8 885.3,324.9 885.5,324.8 885.8,324.7 886,324.8 886.3,324.8 886.5,324.9 886.8,324.9 887,324.8 887.3,324.8 887.5,324.9 887.8,325.1 888,325 888.3,325 888.5,324.9 888.8,324.7 889,324.7 889.3,324.9 889.5,325 889.8,325 890,325 890.3,325.1 890.5,324.9 890.8,324.7 891,324.7 891.3,324.8 891.5,324.7 891.8,324.6 892,324.5 892.3,324.7 892.5,325 892.8,325 893,324.9 893.3,324.8 893.5,324.7 893.8,324.6 894,324.5 894.3,324.5 894.5,324.6 894.8,324.8 895,324.9 895.3,325 895.5,325.1 895.5,326.8 895.3,326.7 895,326.6 894.8,326.4 894.5,326.3 894.3,326.2 894,326.2 893.8,326.3 893.5,326.4 893.3,326.5 893,326.6 892.8,326.7 892.5,326.6 892.3,326.4 892,326.1 891.8,326.3 891.5,326.5 891.3,326.5 891,326.5 890.8,326.4 890.5,326.6 890.3,326.7 890,326.8 889.8,326.7 889.5,326.7 889.3,326.5 889,326.4 888.8,326.6 888.5,326.7 888.3,326.7 888,326.8 887.8,326.8 887.5,326.7 887.3,326.6 887,326.6 886.8,326.6 886.5,326.6 886.3,326.6 886,326.4 885.8,326.5 885.5,326.5 885.3,326.6 885,326.5 884.8,326.5 884.5,326.5 884.3,326.5 884,326.6 883.8,326.7 883.5,326.8 883.3,326.8 883,326.7 882.8,326.5 882.5,326.4 882.3,326.2 882,326.4 881.8,326.7 881.5,326.9 881.3,326.9 881,326.9 880.8,326.8 880.5,326.7 880.3,326.7 880,326.6 879.8,326.6 879.5,326.6 879.3,326.5 879,326.5 878.8,326.5 878.5,326.7 878.3,326.8 878,327 877.8,326.9 877.5,326.8 877.3,327 877,327.2 876.8,327.4 876.5,327.5 876.3,327.5 876,327.6 875.8,327.7 875.5,327.9 875.3,328.1 875,328.2 874.8,328.3 874.5,328.4 874.3,328.4 874,328.8 873.8,329.1 873.5,329.3 873.3,329.4 873,329.6 872.8,329.9 872.5,330.2 872.3,330.2 872,330.1 871.8,330.1 871.5,330.3 871.3,330.5 871,330.4 870.8,330.3 870.5,330.3 870.3,330.4 870,330.5 869.8,330.4 869.5,330.1 869.3,330 869,330.1 868.8,330.2 868.5,330.3 868.3,330.4 868,330.3 867.8,330.3 867.5,330.2 867.3,330.2 867,330.2 866.8,330.3 866.5,330.4 866.3,330.5 866,330.6 865.8,330.6 865.5,330.5 865.3,330.5 865,330.4 864.8,330.3 864.5,330.3 864.3,330.4 864,330.5 863.8,330.6 863.5,330.4 863.3,330.3 863,330.3 862.8,330.3 862.5,330.3 862.3,330.4 862,330.5 861.8,330.4 861.5,330.3 861.3,330.3 861,330.2 860.8,330.2 860.5,330.3 860.3,330.4 860,330.5 859.8,330.5 859.5,330.5 859.3,330.4 859,330.2 858.8,330.2 858.5,330.2 858.3,330.3 858,330.3 857.8,330.4 857.5,330.5 857.3,330.6 857,330.8 856.8,330.7 856.5,330.6 856.3,330.4 856,330.6 855.8,330.7 855.5,330.6 855.3,330.4 855,330.4 854.8,330.5 854.5,330.6 854.3,330.5 854,330.3 853.8,330.3 853.5,330.3 853.3,330.4 853,330.5 852.8,330.6 852.5,330.6 852.3,330.6 852,330.6 851.8,330.7 851.5,330.8 851.3,330.8 851,330.7 850.8,330.7 850.5,330.6 850.3,330.6 850,330.6 849.8,330.7 849.5,330.8 849.3,330.7 849,330.7 848.8,330.8 848.5,330.9 848.3,331.1 848,331.1 847.8,331 847.5,331.1 847.3,331.1 847,331.1 846.8,331.1 846.5,331.1 846.3,331 846,330.9 845.8,330.7 845.5,330.8 845.3,336.2 845,336.2 844.8,336.2 844.5,336.2 844.3,336.2 844,336.2 843.8,336.2 843.5,336.2 843.3,336.2 843,336.2 842.8,331.9 842.5,333 842.3,332.9 842,332.9 841.8,332.5 841.5,332.3 841.3,332.3 841,333.1 840.8,333.8 840.5,333.3 840.3,332.6 840,332.1 839.8,332.4 839.5,332.5 839.3,333 839,333.7 838.8,334 838.5,333.8 838.3,333.4 838,333.4 837.8,333.4 837.5,333.5 837.3,333.6 837,333.8 836.8,333.7 836.5,333.5 836.3,333.3 836,333.6 835.8,334 835.5,334 835.3,333.6 835,333.1 834.8,332.9 834.5,332.9 834.3,333.1 834,339.4 833.8,339.4 833.5,339.4 833.3,339.4 833,339.4 832.8,339.4 832.5,334.2 832.3,334.3 832,334.4 831.8,334.4 831.5,334.1 831.3,333.7 831,333.8 830.8,334.3 830.5,334.5 830.3,334 830,333.4 829.8,333.5 829.5,333.9 829.3,334.3 829,334.5 828.8,334.6 828.5,334.5 828.3,334.3 828,334 827.8,333.7 827.5,333.6 827.3,333.8 827,334.3 826.8,334.6 826.5,334.5 826.3,334.2 826,334.1 825.8,334.2 825.5,334.4 825.3,334.7 825,334.3 824.8,333.6 824.5,334.1 824.3,334.1 824,334 823.8,333.7 823.5,333.8 823.3,334.2 823,334.3 822.8,334.5 822.5,334.2 822.3,333.9 822,334.1 821.8,334.6 821.5,334.9 821.3,334.6 821,334.7 820.8,334.4 820.5,334 820.3,333.8 820,334.4 819.8,338.2 819.5,338.2 819.3,338.2 819,338.2 818.8,338.2 818.5,334.5 818.3,334.3 818,334.6 817.8,335 817.5,335.1 817.3,335.1 817,335 816.8,335.3 816.5,335.1 816.3,334.7 816,334.2 815.8,333.7 815.5,334.2 815.3,334.8 815,335.3 814.8,335.2 814.5,335.2 814.3,335.1 814,334.8 813.8,334.8 813.5,342.2 813.3,342.2 813,342.2 812.8,342.2 812.5,342.2 812.3,342.2 812,334.5 811.8,334.5 811.5,334 811.3,333.9 811,333.9 810.8,334.1 810.5,334.4 810.3,334.4 810,334.3 809.8,334.2 809.5,334.3 809.3,334.4 809,334.5 808.8,334.4 808.5,334.4 808.3,334.2 808,334 807.8,333.8 807.5,333.9 807.3,334 807,334 806.8,334.5 806.5,334.9 806.3,335 806,335.1 805.8,335.1 805.5,334.9 805.3,334.6 805,334.3 804.8,334.9 804.5,335 804.3,334.4 804,334 803.8,333.8 803.5,343.2 803.3,343.2 803,343.2 802.8,343.2 802.5,343.2 802.3,343.2 802,334.5 801.8,334.6 801.5,334.6 801.3,334.6 801,334.6 800.8,334.7 800.5,335 800.3,334.8 800,334.8 799.8,334.9 799.5,335.4 799.3,335.6 799,335.5 798.8,335.3 798.5,344.2 798.3,344.2 798,344.2 797.8,344.2 797.5,344.2 797.3,337.1 797,345.2 796.8,345.2 796.5,345.2 796.3,345.2 796,345.2 795.8,345.2 795.5,339 795.3,339.8 795,340.1 794.8,340.1 794.5,340 794.3,340.3 794,341 793.8,341 793.5,341.5 793.3,342.2 793,350.2 792.8,350.2 792.5,350.2 792.3,350.2 792,350.2 791.8,350.2 791.5,343.6 791.3,344.2 791,345.1 790.8,345.1 790.5,345 790.3,344.9 790,345.2 789.8,345.7 789.5,346.2 789.3,346.8 789,347.2 788.8,347.9 788.5,364.4 788.3,364.4 788,364.4 787.8,364.4 787.5,364.4 787.3,364.4 787,364.4 786.8,355.4 786.5,356.8 786.3,358.2 786,359.1 785.8,358.6 785.5,358.4 785.3,358.2 785,358.1 784.8,358 784.5,357.9 784.3,357.9 784,357.9 783.8,358.4 783.5,358.9 783.3,359.4 783,359.2 782.8,358.8 782.5,358.5 782.3,358.6 782,358.7 781.8,358.9 781.5,358.7 781.3,358.3 781,358 780.8,358.3 780.5,358.5 780.3,358.4 780,358.2 779.8,358.2 779.5,358.4 779.3,358.4 779,358.7 778.8,358.6 778.5,358.8 778.3,359 778,358.6 777.8,358.3 777.5,358.1 777.3,358.2 777,358.2 776.8,358.5 776.5,358.6 776.3,358.7 776,358.7 775.8,359 775.5,359.2 775.3,359.4 775,359.5 774.8,360 774.5,359.9 774.3,359.4 774,359.1 773.8,358.8 773.5,358.7 773.3,358.6 773,358.7 772.8,358.8 772.5,358.9 772.3,358.9 772,359 771.8,359 771.5,359.1 771.3,359.3 771,359.4 770.8,359.5 770.5,359.5 770.3,359.6 770,359.8 769.8,359.8 769.5,359.8 769.3,359.9 769,360 768.8,360.1 768.5,360.2 768.3,360.2 768,360.2 767.8,360.1 767.5,359.8 767.3,359.6 767,359.8 766.8,359.7 766.5,359.5 766.3,359.4 766,359.5 765.8,359.5 765.5,359.6 765.3,359.6 765,359.5 764.8,359.4 764.5,359.8 764.3,360 764,360.1 763.8,360.3 763.5,360.5 763.3,360.6 763,360.4 762.8,360.6 762.5,360.4 762.3,359.9 762,359.5 761.8,359.3 761.5,359.6 761.3,359.8 761,360.2 760.8,360.5 760.5,360.8 760.3,361 760,360.8 759.8,360.6 759.5,360.6 759.3,360.6 759,360.5 758.8,360.4 758.5,360.8 758.3,361.2 758,361.6 757.8,361.6 757.5,361.5 757.3,361.5 757,361.6 756.8,361.6 756.5,361.3 756.3,361 756,360.9 755.8,360.8 755.5,360.7 755.3,361 755,361.6 754.8,361.8 754.5,361.4 754.3,361.1 754,360.5 753.8,360.3 753.5,360.6 753.3,360.9 753,361 752.8,360.7 752.5,360.5 752.3,360.4 752,360.4 751.8,360.4 751.5,360.4 751.3,360.5 751,360.7 750.8,360.8 750.5,360.7 750.3,361.1 750,361.3 749.8,361.2 749.5,361.4 749.3,361.8 749,362.2 748.8,362 748.5,361.8 748.3,361.5 748,361.1 747.8,360.9 747.5,360.6 747.3,360.7 747,361 746.8,361.3 746.5,361.5 746.3,361.6 746,361.8 745.8,362.2 745.5,362.6 745.3,362.5 745,362.1 744.8,361.8 744.5,361.7 744.3,362 744,362.1 743.8,361.8 743.5,361.5 743.3,361.2 743,361 742.8,361.2 742.5,361.5 742.3,361.7 742,361.6 741.8,361.9 741.5,361.8 741.3,362.2 741,362.2 740.8,362 740.5,362.2 740.3,362.2 740,362.2 739.8,366.4 739.5,366.4 739.3,366.4 739,366.4 738.8,366.4 738.5,366.4 738.3,366.4 738,363.2 737.8,363.5 737.5,363.2 737.3,362.6 737,362.1 736.8,361.8 736.5,362 736.3,362.3 736,362.7 735.8,363.3 735.5,363.1 735.3,363.5 735,363.9 734.8,363.5 734.5,363 734.3,362.9 734,363 733.8,362.5 733.5,361.9 733.3,361.3 733,361.2 732.8,361.4 732.5,361.6 732.3,361.9 732,362 731.8,362 731.5,362 731.3,361.9 731,362.4 730.8,362.4 730.5,363 730.3,363.2 730,362.8 729.8,362.6 729.5,362.5 729.3,362.5 729,362.7 728.8,363 728.5,363.2 728.3,363 728,362.9 727.8,362.8 727.5,362.6 727.3,362.8 727,363.1 726.8,363.6 726.5,364 726.3,364.1 726,363.9 725.8,363.7 725.5,363.8 725.3,363.3 725,363.1 724.8,362.5 724.5,362.4 724.3,362.7 724,362.7 723.8,362.6 723.5,362.7 723.3,362.5 723,362.2 722.8,361.8 722.5,361.4 722.3,361.9 722,362.6 721.8,362.8 721.5,363 721.3,363.1 721,362.9 720.8,362.7 720.5,362 720.3,362.1 720,362.6 719.8,363 719.5,363.3 719.3,363.8 719,363.8 718.8,363.4 718.5,362.9 718.3,362.6 718,362.9 717.8,363.1 717.5,362.7 717.3,362.9 717,363.2 716.8,363.2 716.5,363.4 716.3,363.8 716,363.8 715.8,363.2 715.5,362.6 715.3,361.9 715,361.5 714.8,362 714.5,362.3 714.3,362.6 714,363 713.8,363.2 713.5,363.1 713.3,362.9 713,362.6 712.8,362.2 712.5,362.4 712.3,362.8 712,363 711.8,363.2 711.5,363.3 711.3,363.9 711,364.3 710.8,364.5 710.5,364.6 710.3,364.4 710,364.2 709.8,363.6 709.5,363 709.3,362.9 709,363 708.8,363.2 708.5,363.4 708.3,363.6 708,363.6 707.8,364 707.5,364.4 707.3,364.3 707,364.6 706.8,364.2 706.5,363.6 706.3,363 706,362.4 705.8,362.2 705.5,362.5 705.3,362.9 705,363.1 704.8,363.3 704.5,363.5 704.3,363.6 704,363.9 703.8,363.7 703.5,363.4 703.3,363.4 703,363.6 702.8,363.9 702.5,363.8 702.3,363.8 702,363.7 701.8,363.6 701.5,363.4 701.3,362.8 701,362.7 700.8,362.5 700.5,362.5 700.3,362.9 700,363.1 699.8,363.3 699.5,363.5 699.3,363.5 699,365.8 698.8,365.8 698.5,365.8 698.3,365.8 698,365.8 697.8,365.8 697.5,363.7 697.3,364 697,364.6 696.8,365.1 696.5,364.6 696.3,364.2 696,363.8 695.8,363.6 695.5,363.7 695.3,363.7 695,363.8 694.8,363.5 694.5,363.5 694.3,363.6 694,363.7 693.8,363.8 693.5,363.8 693.3,364.1 693,364.3 692.8,364.4 692.5,364.5 692.3,364.7 692,365 691.8,365 691.5,364.9 691.3,364.8 691,364.7 690.8,364.6 690.5,363.9 690.3,363.2 690,362.6 689.8,362.5 689.5,362.8 689.3,363.2 689,363.5 688.8,363.8 688.5,364.1 688.3,364.1 688,364.4 687.8,364.7 687.5,364.8 687.3,364.9 687,364.9 686.8,364.7 686.5,364.4 686.3,364.1 686,363.9 685.8,363.8 685.5,363.8 685.3,363.6 685,364.2 684.8,364.8 684.5,364.8 684.3,364.8 684,364.9 683.8,365.2 683.5,365.4 683.3,365.7 683,366 682.8,365.5 682.5,365.2 682.3,365.7 682,365.7 681.8,365.7 681.5,366 681.3,366.4 681,365.6 680.8,365.1 680.5,366 680.3,365.5 680,365.9 679.8,366.3 679.5,367.2 679.3,368.1 679,368.4 678.8,368.8" fill="#d3d3d3"/>
<polyline points="828.3,330.2 828.5,335.1 828.8,331.1 829,331.8 829.3,335.8 829.5,328.5 829.8,327.8 830,329.9 830.3,331.2 830.5,329.7 830.8,331.9 831,331.8 831.3,328.8 831.5,332.2 831.8,329 832,333.3 832.3,332.3 832.5,323.7 832.8,333.5 833,338.8 833.3,332.5 833.5,332.1 833.8,330.3 834,328.9 834.3,334 834.5,334.8 834.8,330.8 835,331.2 835.3,330.7 835.5,333.7 835.8,334 836,329.8 836.3,330.9 836.5,330.4 836.8,331.9 837,333 837.3,333.5 837.5,330.8 837.8,329.4 838,332.4 838.3,332.4 838.5,330.5 838.8,331.5 839,331.9 839.3,332.9 839.5,331.2 839.8,332 840,331.3 840.3,329 840.5,332.3 840.8,331.1 841,332.9 841.3,328.4 841.5,329.4 841.8,331.4 842,327.3 842.3,330.4 842.5,329.7 842.8,329.7 843,330 843.3,326 843.5,268.3 843.8,268.3 844,337.2 844.3,333.2 844.5,331 844.8,332.2 845,325.5 845.3,331.4 845.5,332.4 845.8,332 846,330.7 846.3,329.5 846.5,329.4 846.8,330.2 847,331 847.3,331.2 847.5,329.9 847.8,327.5 848,333.7 848.3,328.3 848.5,324.6 848.8,332.8 849,332 849.3,330.3 849.5,331.9 849.8,330.8 850,328.2 850.3,330.1 850.5,327.4 850.8,328.5 851,328.1 851.3,330.1 851.5,331.9 851.8,317 852,330.6 852.3,325.4 852.5,327.5 852.8,330.7 853,331.5 853.3,331.5 853.5,331.8 853.8,326.3 854,328.6 854.3,324.5 854.5,329.3 854.8,330.1 855,328.9 855.3,327.7 855.5,330.5 855.8,330.7 856,329.9 856.3,328.4 856.5,329.7 856.8,329.7 857,330.1 857.3,330.8 857.5,329.5 857.8,326.7 858,329 858.3,330.3 858.5,328.7 858.8,330 859,328.2 859.3,332.2 859.5,330.3 859.8,329.8 860,331 860.3,331 860.5,329.7 860.8,331.5 861,330.8 861.3,329.9 861.5,329.5 861.8,327.3 862,329.9 862.3,329.8 862.5,327.8 862.8,332.2 863,329.5 863.3,327.3 863.5,328.6 863.8,329.4 864,329.4 864.3,327.9 864.5,329.5 864.8,326.5 865,328.6 865.3,330.3 865.5,328.1 865.8,330.8 866,331.1 866.3,328.3 866.5,324.7 866.8,331.2 867,332.2 867.3,326.3 867.5,329.9 867.8,330.1 868,326.2 868.3,328.4 868.5,332 868.8,329.9 869,329.5 869.3,331.8 869.5,328.3 869.8,325.9 870,332.2 870.3,327.9 870.5,329.5 870.8,331.8 871,330.1 871.3,329.9 871.5,328.3 871.8,330.7 872,333.9 872.3,328.1 872.5,326.9 872.8,329.6 873,327.4 873.3,328.9 873.5,328.5 873.8,329.3 874,328.6 874.3,328.6 874.5,330.4 874.8,325.8 875,327.6 875.3,328 875.5,324.8 875.8,320.7 876,326.2 876.3,325.7 876.5,328.8 876.8,326.7 877,332.1 877.3,325.3 877.5,325.3 877.8,330.4 878,324.8 878.3,330.3 878.5,319.7 878.8,324.6 879,328.7 879.3,329.1 879.5,326.8 879.8,324.6 880,325.6 880.3,327.4 880.5,317 880.8,327.8 881,324.4 881.3,327.5 881.5,328.4 881.8,332 882,327.3 882.3,327.3 882.5,324.2 882.8,323.2 883,321.3 883.3,326.8 883.5,329.9 883.8,325.6 884,320.9 884.3,326.2 884.5,325.4 884.8,325.1 885,329.3 885.3,328.3 885.5,328.8 885.8,324.2 886,326.5 886.3,323.6 886.5,328.1 886.8,320.7 887,328.4 887.3,326.3 887.5,326.3 887.8,323 888,327.3 888.3,322.2 888.5,323.4 888.8,324 889,330 889.3,326.1 889.5,324.5 889.8,326.9 890,330.6 890.3,325.6 890.5,323.8 890.8,323.6 891,325.8" fill="none" stroke="#000" stroke-width="1.7" stroke-linejoin="round" />
<polyline points="828.3,332.3 828.5,331.7 828.8,332.7 829,332.1 829.3,332.1 829.5,332.2 829.8,331.3 830,332.2 830.3,332.4 830.5,332.1 830.8,332 831,331.5 831.3,332.2 831.5,332 831.8,331.9 832,331.7 832.3,332.2 832.5,327.7 832.8,332 833,334.7 833.3,332.4 833.5,332.5 833.8,331.9 834,331.7 834.3,331.6 834.5,331.8 834.8,332 835,332.1 835.3,331.5 835.5,331.7 835.8,331.2 836,332.1 836.3,331.4 836.5,331.7 836.8,331.2 837,331.3 837.3,331.1 837.5,332.1 837.8,331.5 838,331.2 838.3,330.9 838.5,331 838.8,331.4 839,331.8 839.3,330.5 839.5,330.7 839.8,331 840,330.7 840.3,330.3 840.5,330.9 840.8,331.2 841,330.2 841.3,330.9 841.5,331.2 841.8,331.1 842,330.5 842.3,331.6 842.5,330.8 842.8,330.2 843,330.9 843.3,330 843.5,270.4 843.8,270.4 844,330.7 844.3,336.2 844.5,330.8 844.8,330.6 845,330.5 845.3,330.3 845.5,330.7 845.8,329.5 846,330.4 846.3,330.4 846.5,330.4 846.8,330.5 847,331.7 847.3,330.1 847.5,330.4 847.8,330.1 848,330.7 848.3,329.2 848.5,330.7 848.8,329.7 849,329 849.3,329.5 849.5,329.8 849.8,330 850,329.9 850.3,330.2 850.5,329.8 850.8,329.8 851,328.9 851.3,330 851.5,330.2 851.8,325.7 852,328.9 852.3,329.1 852.5,330.4 852.8,329.4 853,329.4 853.3,329.3 853.5,329.9 853.8,329.4 854,329.3 854.3,329 854.5,329.6 854.8,330 855,329.5 855.3,330 855.5,329.7 855.8,329.6 856,329.7 856.3,329.6 856.5,330 856.8,329.8 857,329.3 857.3,329.6 857.5,329.5 857.8,329.8 858,329.6 858.3,329.7 858.5,328.9 858.8,329.7 859,330.1 859.3,329 859.5,330.2 859.8,329.6 860,329.4 860.3,328.8 860.5,330 860.8,329.1 861,329.3 861.3,329.7 861.5,329.1 861.8,329.1 862,329 862.3,329.4 862.5,329.7 862.8,329.6 863,329.6 863.3,329.3 863.5,329.5 863.8,329.2 864,330.3 864.3,329.5 864.5,328.6 864.8,329 865,330.1 865.3,328.9 865.5,329.3 865.8,329.6 866,329 866.3,329.9 866.5,330.2 866.8,329.1 867,329.9 867.3,329.1 867.5,329.1 867.8,329.6 868,329.7 868.3,329.3 868.5,330 868.8,329.1 869,329.5 869.3,329.5 869.5,330.4 869.8,330.5 870,330.6 870.3,329.9 870.5,330.6 870.8,330.9 871,330.1 871.3,330.4 871.5,331 871.8,331 872,330.6 872.3,330.5 872.5,330.1 872.8,329.7 873,329.3 873.3,328.7 873.5,328.7 873.8,328.4 874,329.3 874.3,328.2 874.5,327.9 874.8,327.6 875,327.4 875.3,327.2 875.5,327.4 875.8,322.7 876,327.1 876.3,326.3 876.5,326.6 876.8,326.7 877,325.7 877.3,326 877.5,325.9 877.8,325.7 878,325.6 878.3,325 878.5,326.3 878.8,325.4 879,325.3 879.3,326.1 879.5,325 879.8,326.2 880,326 880.3,326 880.5,319.7 880.8,319.7 881,325 881.3,326.4 881.5,325.5 881.8,325.5 882,326.4 882.3,325.5 882.5,325.6 882.8,325.6 883,325.7 883.3,325.3 883.5,325.5 883.8,326.2 884,326 884.3,324.4 884.5,324.9 884.8,325.8 885,325.6 885.3,325.5 885.5,326.1 885.8,324.9 886,326.2 886.3,325.7 886.5,322.2 886.8,325.8 887,326 887.3,325.6 887.5,325.5 887.8,326 888,325.8 888.3,325.2 888.5,326.3 888.8,326.2 889,326.3 889.3,325.7 889.5,325.9 889.8,325.6 890,325.3 890.3,325.8 890.5,325.8 890.8,325.5 891,326.5" fill="none" stroke="#b671aa" stroke-width="1.55" stroke-linejoin="round" />
<g fill="#cc86c3"><circle cx="689.1" cy="363.4" r="1.25"/><circle cx="702.6" cy="361.4" r="1.25"/><circle cx="714.1" cy="360.8" r="1.25"/><circle cx="729.6" cy="360.2" r="1.25"/><circle cx="738.8" cy="360.6" r="1.25"/><circle cx="746.4" cy="360.4" r="1.25"/><circle cx="757.4" cy="359" r="1.25"/><circle cx="758.8" cy="357.8" r="1.25"/><circle cx="765.3" cy="358" r="1.25"/><circle cx="767.4" cy="357.4" r="1.25"/><circle cx="773.2" cy="356.6" r="1.25"/><circle cx="785.9" cy="349.2" r="1.25"/><circle cx="792.6" cy="338.8" r="1.25"/><circle cx="798.5" cy="333.2" r="1.25"/><circle cx="816.3" cy="328.4" r="1.25"/><circle cx="826.3" cy="330.4" r="1.25"/></g>
<g fill="#5c5c5c" fill-opacity="0.7" stroke="#262626" stroke-opacity="0.8" stroke-width="0.7"><circle cx="689.1" cy="360.8" r="1.9"/><circle cx="702.6" cy="358.4" r="1.9"/><circle cx="714.1" cy="358.2" r="1.9"/><circle cx="729.6" cy="361.4" r="1.9"/><circle cx="738.8" cy="360.1" r="1.9"/><circle cx="746.4" cy="361" r="1.9"/><circle cx="757.4" cy="358.2" r="1.9"/><circle cx="758.8" cy="357.5" r="1.9"/><circle cx="765.3" cy="357.3" r="1.9"/><circle cx="767.4" cy="358.7" r="1.9"/><circle cx="773.2" cy="355.7" r="1.9"/><circle cx="785.9" cy="349.8" r="1.9"/><circle cx="792.6" cy="342.8" r="1.9"/><circle cx="798.5" cy="332.9" r="1.9"/><circle cx="816.1" cy="324.1" r="1.9"/><circle cx="826.2" cy="331.6" r="1.9"/></g>
</g>
<path d="M673.9 376h4.9M673.9 365.4h4.9M673.9 357.2h4.9M673.9 350.4h4.9M673.9 344.8h4.9M673.9 339.8h4.9M673.9 335.5h4.9M671.6 331.6h7.2M673.9 306.1h4.9M673.9 291.1h4.9M673.9 280.5h4.9M673.9 272.3h4.9M673.9 265.5h4.9M673.9 259.9h4.9M673.9 254.9h4.9M673.9 250.6h4.9M671.6 246.7h7.2M673.9 221.2h4.9M673.9 206.2h4.9M702.5 376v4.9M724.9 376v7.2M794.2 376v4.9M834.8 376v4.9M863.6 376v4.9M885.9 376v4.9" stroke="#000" stroke-width="1.45" fill="none"/>
<text x="629.7" y="337.1" font-size="16.0" text-anchor="start">10<tspan font-size="11.2" dy="-6.2" dx="0.7">−6</tspan></text>
<text x="629.7" y="252.2" font-size="16.0" text-anchor="start">10<tspan font-size="11.2" dy="-6.2" dx="0.7">−5</tspan></text>
<text x="702.5" y="396.6" font-size="16.0" text-anchor="middle" >0.8</text>
<text x="724.9" y="398.8" font-size="16.0" text-anchor="middle" >1</text>
<text x="794.2" y="396.6" font-size="16.0" text-anchor="middle" >2</text>
<text x="834.8" y="396.6" font-size="16.0" text-anchor="middle" >3</text>
<text x="863.6" y="396.6" font-size="16.0" text-anchor="middle" >4</text>
<text x="885.9" y="396.6" font-size="16.0" text-anchor="middle" >5</text>
<text transform="translate(621.8 291.1) rotate(-90)" font-size="18.0" text-anchor="middle">Flux density [Jy]</text>
<text x="728.2" y="419.5" font-size="18.0"><tspan font-style="italic">λ</tspan><tspan font-size="12.6" dy="3.1" dx="-0.7">observed</tspan><tspan dy="-3.1" dx="-0.2"> [µm]</tspan></text>
<rect x="678.8" y="206.2" width="216.8" height="169.8" fill="none" stroke="#000" stroke-width="1.6"/>
<text x="687.3" y="225.5" font-size="15.7" text-anchor="start" >Photometry + G395M</text>
<g clip-path="url(#c13)">
<path d="M982.3 366.3H997V368.3H982.3ZM997 289.4H1014.4V338.7H997ZM1014.4 218.2H1031.7V291.4H1014.4ZM1031.7 366.9H1049.1V371H1031.7ZM1049.1 369.7H1066.4V371H1049.1ZM1066.4 369.8H1083.8V371H1066.4ZM1083.8 369.8H1101.1V371H1083.8ZM1101.1 369.8H1118.5V371H1101.1ZM1118.5 369.8H1135.8V371H1118.5ZM1135.8 369.8H1153.1V371H1135.8ZM1153.1 369.8H1170.5V371H1153.1ZM1170.5 369.8H1187.8V371H1170.5ZM1187.8 369.8H1199.1V371H1187.8Z" fill="#efe1ed"/>
<path d="M982.3 367.3H997V298.8H1014.4V275.8H1031.7V370.7H1049.1V370.8H1066.4V370.8H1083.8V370.8H1101.1V370.8H1118.5V370.8H1135.8V370.8H1153.1V370.8H1170.5V370.8H1187.8V370.8H1199.1" fill="none" stroke="#b671aa" stroke-width="2.05" stroke-linejoin="miter"/>
<path d="M982.3 367.8H997V304.8H1014.4V369.8H1031.7V324.9H1049.1V369.8H1066.4V332.4H1083.8V369.8H1101.1V336.8H1118.5V369.8H1135.8V340.3H1153.1V369.8H1170.5V342.4H1187.8V369.8H1199.1" fill="none" stroke="#6b6b6b" stroke-width="2.05" stroke-dasharray="2.05 3.38"/>
</g>
<path d="M975.3 371.2h7M975.3 319.7h7M975.3 268.3h7M975.3 216.8h7M982.3 376v7M1069 376v7M1155.7 376v7" stroke="#000" stroke-width="1.45" fill="none"/>
<text x="971.6" y="377.1" font-size="16.0" text-anchor="end" >0</text>
<text x="971.6" y="325.6" font-size="16.0" text-anchor="end" >50</text>
<text x="971.6" y="274.2" font-size="16.0" text-anchor="end" >100</text>
<text x="971.6" y="222.7" font-size="16.0" text-anchor="end" >150</text>
<text x="982.3" y="398.7" font-size="16.0" text-anchor="middle" >0</text>
<text x="1069" y="398.7" font-size="16.0" text-anchor="middle" >200</text>
<text x="1155.7" y="398.7" font-size="16.0" text-anchor="middle" >400</text>
<text transform="translate(931.9 291.1) rotate(-90)" font-size="18.0" text-anchor="middle">SFR [M<tspan font-size="10.8" dy="2.6" dx="3.2">⊙</tspan><tspan dy="-2.6" dx="0.7"> yr</tspan><tspan font-size="12.6" dy="-7">−1</tspan><tspan dy="7">]</tspan></text>
<text x="1090.7" y="419.5" font-size="18.0" text-anchor="middle" >Lookback time [Myr]</text>
<rect x="982.3" y="206.2" width="216.8" height="169.8" fill="none" stroke="#000" stroke-width="1.6"/>
<text x="990.8" y="225.5" font-size="15.7" text-anchor="start" >Bursty continuity prior</text>
</svg>
</body></html>
